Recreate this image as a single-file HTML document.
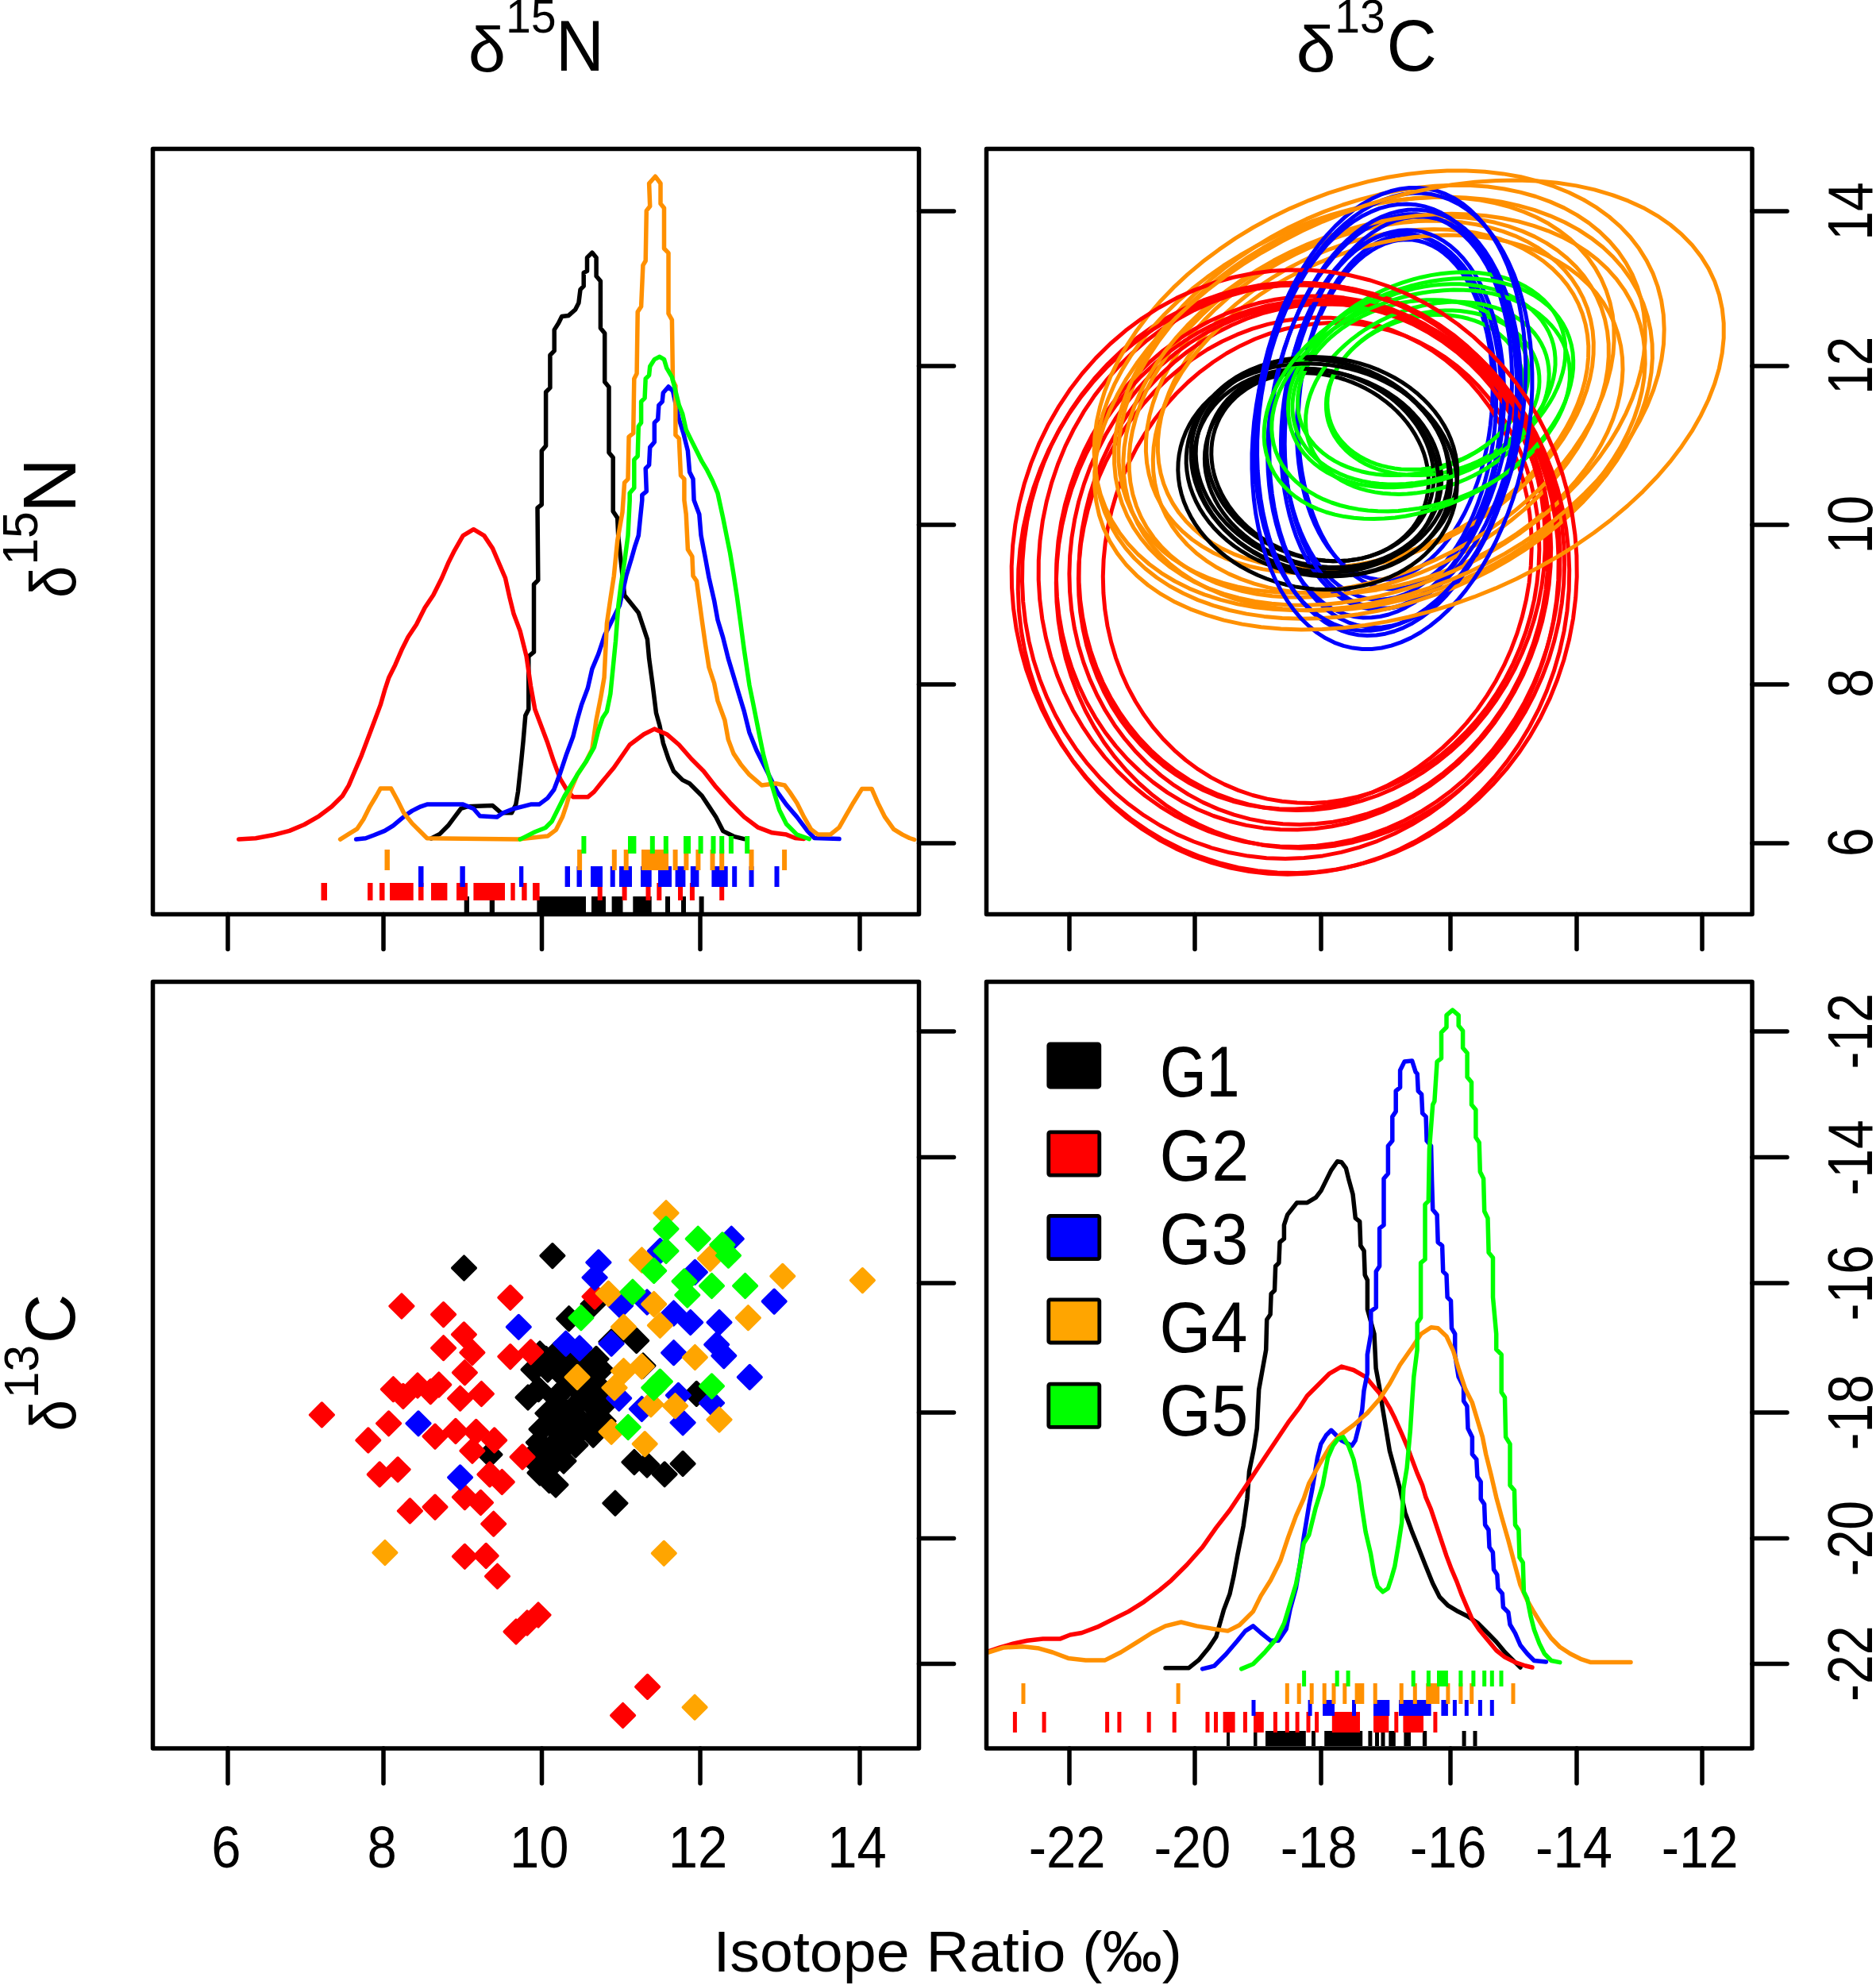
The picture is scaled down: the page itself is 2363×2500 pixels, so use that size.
<!DOCTYPE html>
<html><head><meta charset="utf-8"><title>Isotope pairs plot</title>
<style>
html,body{margin:0;padding:0;background:#fff;overflow:hidden;}
svg{display:block;}
text{font-family:"Liberation Sans",Arial,sans-serif;fill:#000;}
</style></head><body>
<svg width="2363" height="2500" viewBox="0 0 2363 2500">
<rect width="2363" height="2500" fill="#fff"/>
<polyline points="543.2,1056.0 553.9,1050.4 564.5,1039.8 572.5,1029.1 580.5,1018.5 588.5,1015.8 620.5,1014.5 631.2,1023.8 644.5,1023.8 649.8,1013.1 652.5,997.1 656.5,959.8 659.1,933.2 661.8,901.2 665.8,893.2 665.8,826.6 672.5,821.2 672.5,736.0 677.8,730.6 677.0,639.7 682.3,635.5 682.3,567.8 687.6,561.4 687.6,493.7 692.9,488.4 692.9,447.2 698.2,441.9 698.2,415.4 703.5,407.0 707.7,398.5 716.2,397.4 724.6,390.0 728.9,381.6 731.0,364.6 735.2,360.4 735.2,343.5 739.5,341.4 739.5,324.4 745.8,318.1 751.1,324.4 751.1,347.7 756.4,354.1 756.4,413.3 761.7,419.7 761.7,481.0 767.0,487.4 767.0,569.9 772.2,576.2 772.2,643.9 777.7,652.2 778.8,676.5 782.2,707.6 786.6,749.7 795.5,760.7 804.3,771.8 811.0,791.8 815.4,805.1 817.6,829.4 822.1,862.7 826.5,898.1 830.9,913.7 835.3,935.8 842.0,955.8 848.6,971.3 859.7,982.4 868.6,986.8 884.1,1002.3 893.0,1015.6 901.8,1028.9 910.7,1046.6 924.0,1053.3 937.3,1056.6" fill="none" stroke="#000000" stroke-width="5.5" stroke-linejoin="round" stroke-linecap="round"/>
<polyline points="300.7,1057.1 322.0,1055.8 343.3,1051.8 364.6,1046.4 383.3,1038.5 401.9,1027.8 417.9,1015.8 431.3,1002.5 439.3,989.1 447.2,970.5 455.2,951.8 463.2,930.5 471.2,909.2 479.2,887.9 484.6,869.2 489.9,853.2 497.9,837.2 505.9,818.6 513.9,802.6 524.5,786.6 535.2,765.3 545.9,749.3 556.5,728.0 564.5,709.3 572.5,693.3 583.2,674.6 596.5,666.7 609.8,674.6 620.5,690.6 628.5,709.3 636.5,728.0 641.8,751.9 647.1,773.3 655.1,794.6 663.1,826.6 668.5,863.9 673.8,893.2 681.8,914.5 689.8,935.8 697.8,959.8 705.8,981.2 713.8,994.5 721.8,1003.8 740.4,1003.8 748.4,997.1 759.1,983.8 773.3,966.8 793.2,938.0 811.0,924.7 824.3,918.1 839.8,924.7 855.3,938.0 870.8,955.8 886.3,971.3 901.8,991.2 919.6,1011.2 937.3,1028.9 955.0,1042.2 972.7,1048.8 990.5,1051.1 1001.5,1055.5 1012.6,1056.6" fill="none" stroke="#ff0000" stroke-width="5.5" stroke-linejoin="round" stroke-linecap="round"/>
<polyline points="448.6,1057.1 460.6,1055.8 471.2,1051.8 484.6,1046.4 495.2,1039.8 503.2,1033.1 511.2,1026.5 519.2,1021.1 529.9,1015.8 537.9,1013.1 583.2,1013.1 596.5,1018.5 604.5,1027.8 625.8,1029.1 633.8,1023.8 647.1,1018.5 657.8,1015.8 668.5,1013.1 679.1,1013.1 689.8,1005.1 697.8,994.5 705.8,973.2 713.8,949.2 721.8,927.8 727.1,906.5 732.4,887.9 740.4,866.5 745.8,842.6 753.7,823.9 761.7,799.9 767.1,789.3 772.4,778.6 780.4,762.6 788.8,725.3 795.5,703.1 799.9,687.6 804.3,674.3 806.5,652.2 808.8,630.0 808.8,623.3 814.3,618.8 813.2,590.0 817.6,585.6 818.7,563.4 824.3,556.8 824.3,532.4 828.7,528.0 829.8,510.3 834.2,505.8 835.3,494.7 842.0,487.0 847.5,492.5 855.3,528.0 860.8,545.7 866.4,567.9 868.6,594.5 873.0,603.3 874.1,629.9 880.8,647.7 883.0,674.3 888.5,703.1 893.0,727.5 899.6,756.3 904.0,780.7 910.7,802.9 917.3,829.4 924.0,851.6 930.6,873.8 937.3,895.9 943.9,922.5 952.8,944.7 961.7,962.4 970.5,980.1 979.4,997.9 990.5,1013.4 1003.8,1028.9 1017.1,1046.6 1025.9,1055.5 1057.0,1056.6" fill="none" stroke="#0000ff" stroke-width="5.5" stroke-linejoin="round" stroke-linecap="round"/>
<polyline points="428.6,1057.1 439.3,1050.4 449.9,1043.8 457.9,1031.8 465.9,1015.8 473.9,1002.5 479.2,993.1 492.6,993.1 500.6,1007.8 508.6,1023.8 519.2,1037.1 529.9,1047.8 537.9,1055.8 652.5,1057.1 689.8,1053.1 700.4,1045.1 708.4,1029.1 713.8,1013.1 719.1,994.5 727.1,975.8 737.8,959.8 745.8,943.8 751.1,906.5 756.4,879.9 761.1,853.2 764.4,785.1 768.9,754.1 773.3,725.3 777.7,681.0 784.0,645.0 786.6,607.8 791.0,603.3 792.1,550.1 797.7,545.7 798.8,477.0 802.1,470.4 803.2,392.8 807.6,386.1 809.9,334.1 813.2,328.5 814.3,265.4 818.7,259.8 817.6,231.0 825.4,222.2 832.0,231.0 832.0,256.5 836.5,262.0 836.5,313.0 842.0,318.6 842.0,395.0 846.4,402.8 847.5,479.2 850.9,485.9 850.9,547.9 855.3,552.4 857.5,598.9 861.9,603.3 861.9,630.0 864.2,647.7 866.4,692.0 871.9,700.9 873.0,725.3 877.5,731.9 880.8,756.3 884.1,780.7 888.5,811.7 893.0,840.5 899.6,860.5 904.0,882.6 912.9,907.0 917.3,931.4 924.0,949.1 932.9,962.4 943.9,975.7 959.4,989.0 977.2,986.8 988.3,989.0 994.9,997.9 1003.8,1011.2 1012.6,1028.9 1021.5,1044.4 1030.4,1051.1 1045.9,1051.1 1057.0,1042.2 1065.8,1026.7 1074.7,1011.2 1085.8,993.4 1098.0,993.4 1105.7,1011.2 1114.6,1028.9 1125.7,1044.4 1136.7,1051.1 1145.6,1055.5 1151.7,1057.5" fill="none" stroke="#ff9000" stroke-width="5.5" stroke-linejoin="round" stroke-linecap="round"/>
<polyline points="655.1,1057.1 663.1,1053.1 673.8,1047.8 687.1,1042.5 695.1,1034.5 703.1,1018.5 711.1,1002.5 719.1,989.1 727.1,975.8 737.8,959.8 748.4,941.2 753.7,919.8 759.1,903.9 764.4,895.9 768.9,873.8 772.2,840.5 775.5,807.3 778.8,763.0 782.2,736.4 786.6,707.6 791.0,674.3 793.2,630.0 793.2,621.1 798.8,614.4 798.8,578.9 803.2,574.5 804.3,536.8 807.6,532.4 807.6,505.8 812.1,501.4 813.2,477.0 817.6,472.6 818.7,461.5 824.3,452.6 830.9,449.3 836.5,452.6 839.8,463.7 846.4,474.8 850.9,492.5 855.3,510.3 859.7,521.3 864.2,541.3 870.8,554.6 877.5,567.9 884.1,581.2 890.7,592.2 897.4,605.5 904.0,621.1 910.7,652.2 915.1,674.3 919.6,696.5 924.0,723.1 928.4,751.9 932.9,785.1 937.3,818.4 940.6,840.5 943.9,862.7 948.4,884.8 952.8,907.0 957.2,929.2 961.7,951.3 968.3,975.7 975.0,997.9 981.6,1020.0 990.5,1037.8 1003.8,1051.1 1019.3,1056.6" fill="none" stroke="#00ff00" stroke-width="5.5" stroke-linejoin="round" stroke-linecap="round"/>
<rect x="584.7" y="1129" width="6.3" height="21" fill="#000000"/><rect x="616.7" y="1129" width="6.3" height="21" fill="#000000"/><rect x="676.4" y="1129" width="61.6" height="21" fill="#000000"/><rect x="745.0" y="1129" width="18.0" height="21" fill="#000000"/><rect x="770.6" y="1129" width="13.9" height="21" fill="#000000"/><rect x="797.3" y="1129" width="23.4" height="21" fill="#000000"/><rect x="838.0" y="1129" width="6.0" height="21" fill="#000000"/><rect x="858.0" y="1129" width="6.0" height="21" fill="#000000"/><rect x="880.6" y="1129" width="6.0" height="21" fill="#000000"/>
<rect x="404.5" y="1112" width="7.5" height="22" fill="#ff0000"/><rect x="463.0" y="1112" width="6.5" height="22" fill="#ff0000"/><rect x="478.0" y="1112" width="6.5" height="22" fill="#ff0000"/><rect x="491.0" y="1112" width="29.7" height="22" fill="#ff0000"/><rect x="527.0" y="1112" width="6.5" height="22" fill="#ff0000"/><rect x="543.0" y="1112" width="20.4" height="22" fill="#ff0000"/><rect x="575.0" y="1112" width="14.0" height="22" fill="#ff0000"/><rect x="596.4" y="1112" width="39.6" height="22" fill="#ff0000"/><rect x="643.3" y="1112" width="5.4" height="22" fill="#ff0000"/><rect x="657.2" y="1112" width="6.4" height="22" fill="#ff0000"/><rect x="671.0" y="1112" width="8.6" height="22" fill="#ff0000"/><rect x="752.7" y="1112" width="6.0" height="22" fill="#ff0000"/><rect x="783.6" y="1112" width="6.0" height="22" fill="#ff0000"/><rect x="813.5" y="1112" width="6.0" height="22" fill="#ff0000"/><rect x="827.3" y="1112" width="6.0" height="22" fill="#ff0000"/><rect x="854.0" y="1112" width="6.0" height="22" fill="#ff0000"/><rect x="868.9" y="1112" width="6.0" height="22" fill="#ff0000"/><rect x="906.2" y="1112" width="6.0" height="22" fill="#ff0000"/>
<rect x="527.0" y="1091" width="6.5" height="26" fill="#0000ff"/><rect x="579.4" y="1091" width="6.4" height="26" fill="#0000ff"/><rect x="654.0" y="1091" width="5.3" height="26" fill="#0000ff"/><rect x="711.6" y="1091" width="6.4" height="26" fill="#0000ff"/><rect x="726.5" y="1091" width="6.4" height="26" fill="#0000ff"/><rect x="744.0" y="1091" width="15.0" height="26" fill="#0000ff"/><rect x="768.7" y="1091" width="6.0" height="26" fill="#0000ff"/><rect x="780.0" y="1091" width="16.0" height="26" fill="#0000ff"/><rect x="807.0" y="1091" width="13.7" height="26" fill="#0000ff"/><rect x="829.0" y="1091" width="17.0" height="26" fill="#0000ff"/><rect x="850.6" y="1091" width="12.8" height="26" fill="#0000ff"/><rect x="869.8" y="1091" width="10.6" height="26" fill="#0000ff"/><rect x="896.4" y="1091" width="20.3" height="26" fill="#0000ff"/><rect x="922.2" y="1091" width="6.0" height="26" fill="#0000ff"/><rect x="943.5" y="1091" width="6.0" height="26" fill="#0000ff"/><rect x="975.5" y="1091" width="6.0" height="26" fill="#0000ff"/>
<rect x="484.5" y="1070" width="6.4" height="26" fill="#ff9000"/><rect x="727.1" y="1070" width="6.0" height="26" fill="#ff9000"/><rect x="770.8" y="1070" width="6.0" height="26" fill="#ff9000"/><rect x="785.7" y="1070" width="6.0" height="26" fill="#ff9000"/><rect x="808.0" y="1070" width="34.0" height="26" fill="#ff9000"/><rect x="847.6" y="1070" width="6.0" height="26" fill="#ff9000"/><rect x="861.4" y="1070" width="6.0" height="26" fill="#ff9000"/><rect x="876.4" y="1070" width="6.0" height="26" fill="#ff9000"/><rect x="894.5" y="1070" width="6.0" height="26" fill="#ff9000"/><rect x="906.2" y="1070" width="6.0" height="26" fill="#ff9000"/><rect x="943.5" y="1070" width="6.0" height="26" fill="#ff9000"/><rect x="985.1" y="1070" width="6.0" height="26" fill="#ff9000"/>
<rect x="732.4" y="1053" width="6.0" height="22" fill="#00ff00"/><rect x="791.0" y="1053" width="10.4" height="22" fill="#00ff00"/><rect x="818.8" y="1053" width="6.0" height="22" fill="#00ff00"/><rect x="835.8" y="1053" width="6.0" height="22" fill="#00ff00"/><rect x="861.0" y="1053" width="9.0" height="22" fill="#00ff00"/><rect x="879.6" y="1053" width="6.0" height="22" fill="#00ff00"/><rect x="895.5" y="1053" width="6.0" height="22" fill="#00ff00"/><rect x="906.2" y="1053" width="6.0" height="22" fill="#00ff00"/><rect x="917.9" y="1053" width="6.0" height="22" fill="#00ff00"/><rect x="938.2" y="1053" width="6.0" height="22" fill="#00ff00"/>
<polygon points="1533.3,533.0 1536.7,525.8 1540.8,518.9 1545.4,512.4 1550.6,506.2 1556.4,500.4 1562.7,495.1 1569.5,490.2 1576.7,485.8 1584.3,481.8 1592.3,478.4 1600.7,475.6 1609.4,473.3 1618.3,471.5 1627.4,470.3 1636.7,469.7 1646.2,469.7 1655.7,470.2 1665.2,471.3 1674.8,473.0 1684.3,475.2 1693.6,478.0 1702.9,481.4 1711.9,485.2 1720.7,489.6 1729.2,494.4 1737.4,499.7 1745.2,505.4 1752.6,511.5 1759.6,518.0 1766.1,524.9 1772.1,532.0 1777.5,539.4 1782.4,547.1 1786.7,555.0 1790.5,563.0 1793.6,571.1 1796.0,579.4 1797.8,587.6 1799.0,595.9 1799.4,604.1 1799.3,612.3 1798.4,620.3 1796.9,628.2 1794.7,635.9 1791.9,643.4 1788.5,650.5 1784.4,657.4 1779.8,664.0 1774.6,670.1 1768.8,675.9 1762.5,681.3 1755.8,686.2 1748.5,690.6 1740.9,694.5 1732.9,697.9 1724.5,700.8 1715.9,703.1 1706.9,704.8 1697.8,706.0 1688.5,706.6 1679.0,706.7 1669.5,706.1 1660.0,705.0 1650.4,703.3 1641.0,701.1 1631.6,698.3 1622.4,695.0 1613.3,691.1 1604.6,686.8 1596.1,681.9 1587.9,676.6 1580.1,670.9 1572.6,664.8 1565.7,658.3 1559.2,651.5 1553.2,644.3 1547.7,636.9 1542.8,629.2 1538.5,621.4 1534.8,613.4 1531.7,605.2 1529.2,597.0 1527.4,588.7 1526.3,580.4 1525.8,572.2 1526.0,564.0 1526.8,556.0 1528.3,548.1 1530.5,540.4" fill="none" stroke="#000000" stroke-width="5" stroke-linejoin="round"/>
<polygon points="1750.5,416.4 1768.5,422.5 1786.0,430.0 1802.9,438.9 1819.1,449.0 1834.5,460.4 1849.1,473.1 1862.9,486.8 1875.6,501.7 1887.3,517.6 1898.0,534.4 1907.5,552.1 1915.8,570.5 1922.9,589.6 1928.7,609.3 1933.2,629.4 1936.5,650.0 1938.3,670.8 1938.9,691.8 1938.1,712.9 1936.0,734.0 1932.6,755.0 1927.8,775.7 1921.8,796.2 1914.5,816.1 1906.0,835.6 1896.3,854.5 1885.5,872.6 1873.6,890.0 1860.7,906.4 1846.8,921.9 1832.1,936.4 1816.5,949.7 1800.2,961.9 1783.2,972.9 1765.6,982.6 1747.6,990.9 1729.1,997.8 1710.3,1003.4 1691.3,1007.5 1672.2,1010.2 1653.0,1011.4 1633.9,1011.1 1614.9,1009.3 1596.1,1006.1 1577.7,1001.5 1559.8,995.4 1542.3,987.9 1525.4,979.1 1509.2,968.9 1493.7,957.5 1479.1,944.8 1465.4,931.1 1452.6,916.2 1440.9,900.3 1430.3,883.5 1420.8,865.9 1412.5,847.4 1405.4,828.3 1399.6,808.7 1395.0,788.5 1391.8,767.9 1389.9,747.1 1389.3,726.1 1390.1,705.0 1392.2,683.9 1395.7,662.9 1400.4,642.2 1406.4,621.8 1413.7,601.8 1422.2,582.3 1431.9,563.4 1442.7,545.3 1454.6,528.0 1467.5,511.5 1481.4,496.0 1496.2,481.5 1511.7,468.2 1528.1,456.0 1545.0,445.0 1562.6,435.4 1580.7,427.0 1599.1,420.1 1617.9,414.5 1636.9,410.4 1656.1,407.7 1675.3,406.5 1694.4,406.8 1713.4,408.6 1732.1,411.8" fill="none" stroke="#ff0000" stroke-width="5" stroke-linejoin="round"/>
<polygon points="1779.1,302.0 1787.5,303.5 1795.8,305.9 1803.8,309.4 1811.7,313.8 1819.2,319.3 1826.5,325.7 1833.4,333.0 1840.0,341.3 1846.1,350.3 1851.9,360.2 1857.1,370.9 1861.9,382.2 1866.1,394.2 1869.8,406.8 1873.0,419.9 1875.6,433.5 1877.6,447.5 1879.1,461.9 1879.9,476.4 1880.1,491.2 1879.8,506.1 1878.8,521.1 1877.2,536.0 1875.1,550.8 1872.4,565.5 1869.1,579.9 1865.3,594.0 1860.9,607.7 1856.0,621.0 1850.7,633.8 1844.9,646.0 1838.6,657.5 1832.0,668.4 1825.0,678.5 1817.7,687.8 1810.0,696.3 1802.1,703.9 1794.0,710.6 1785.7,716.4 1777.3,721.2 1768.7,724.9 1760.2,727.7 1751.5,729.4 1743.0,730.1 1734.4,729.7 1726.0,728.3 1717.8,725.9 1709.7,722.4 1701.9,717.9 1694.3,712.5 1687.0,706.1 1680.1,698.7 1673.5,690.5 1667.4,681.4 1661.7,671.6 1656.4,660.9 1651.6,649.6 1647.4,637.6 1643.7,625.0 1640.5,611.8 1637.9,598.2 1635.9,584.2 1634.5,569.9 1633.6,555.3 1633.4,540.5 1633.7,525.6 1634.7,510.7 1636.3,495.8 1638.4,480.9 1641.1,466.3 1644.4,451.9 1648.3,437.8 1652.6,424.0 1657.5,410.8 1662.8,398.0 1668.6,385.8 1674.9,374.3 1681.5,363.4 1688.5,353.3 1695.9,343.9 1703.5,335.4 1711.4,327.8 1719.5,321.1 1727.8,315.4 1736.2,310.6 1744.8,306.8 1753.4,304.1 1762.0,302.4 1770.6,301.7" fill="none" stroke="#0000ff" stroke-width="5" stroke-linejoin="round"/>
<polygon points="1988.2,382.6 1993.3,395.3 1997.1,408.4 1999.6,422.0 2000.8,436.0 2000.6,450.4 1999.2,464.9 1996.4,479.7 1992.3,494.6 1986.9,509.5 1980.3,524.4 1972.5,539.1 1963.5,553.7 1953.3,568.1 1942.1,582.1 1929.8,595.7 1916.5,608.9 1902.4,621.6 1887.4,633.6 1871.6,645.1 1855.1,655.8 1838.0,665.8 1820.4,675.0 1802.4,683.3 1784.0,690.8 1765.3,697.4 1746.4,703.0 1727.5,707.6 1708.6,711.2 1689.8,713.8 1671.1,715.4 1652.8,715.9 1634.8,715.4 1617.3,713.9 1600.4,711.3 1584.1,707.7 1568.4,703.2 1553.6,697.6 1539.6,691.1 1526.6,683.6 1514.5,675.3 1503.5,666.1 1493.6,656.2 1484.8,645.5 1477.2,634.0 1470.9,622.0 1465.8,609.4 1462.0,596.2 1459.5,582.6 1458.4,568.6 1458.5,554.2 1460.0,539.7 1462.7,524.9 1466.8,510.0 1472.2,495.1 1478.8,480.2 1486.6,465.5 1495.6,450.9 1505.8,436.5 1517.0,422.5 1529.3,408.9 1542.6,395.7 1556.7,383.1 1571.7,371.0 1587.5,359.5 1604.0,348.8 1621.1,338.8 1638.7,329.6 1656.7,321.3 1675.1,313.8 1693.8,307.2 1712.7,301.6 1731.6,297.0 1750.5,293.4 1769.3,290.8 1788.0,289.2 1806.3,288.7 1824.3,289.2 1841.8,290.7 1858.7,293.3 1875.1,296.9 1890.7,301.5 1905.5,307.0 1919.5,313.5 1932.5,321.0 1944.6,329.3 1955.6,338.5 1965.5,348.4 1974.3,359.2 1981.9,370.6" fill="none" stroke="#ff9000" stroke-width="5" stroke-linejoin="round"/>
<polygon points="1674.6,527.2 1673.1,520.8 1672.2,514.2 1671.9,507.5 1672.2,500.7 1673.2,493.9 1674.7,487.1 1676.8,480.4 1679.5,473.7 1682.7,467.1 1686.5,460.6 1690.8,454.3 1695.6,448.2 1700.9,442.3 1706.7,436.7 1712.9,431.3 1719.5,426.3 1726.5,421.5 1733.8,417.2 1741.4,413.2 1749.2,409.6 1757.3,406.4 1765.6,403.6 1774.0,401.3 1782.5,399.4 1791.1,398.0 1799.7,397.1 1808.2,396.6 1816.7,396.6 1825.1,397.1 1833.4,398.0 1841.5,399.4 1849.3,401.3 1856.9,403.7 1864.1,406.4 1871.1,409.6 1877.7,413.2 1883.8,417.2 1889.6,421.6 1894.8,426.3 1899.6,431.4 1903.9,436.7 1907.6,442.4 1910.8,448.3 1913.5,454.4 1915.5,460.7 1917.0,467.2 1917.9,473.8 1918.2,480.5 1917.8,487.2 1916.9,494.0 1915.4,500.8 1913.3,507.6 1910.6,514.3 1907.4,520.9 1903.6,527.3 1899.3,533.6 1894.5,539.8 1889.2,545.6 1883.4,551.3 1877.2,556.6 1870.6,561.7 1863.6,566.4 1856.3,570.8 1848.7,574.8 1840.9,578.4 1832.8,581.6 1824.5,584.3 1816.1,586.6 1807.6,588.5 1799.0,589.9 1790.4,590.9 1781.9,591.3 1773.4,591.3 1765.0,590.9 1756.7,589.9 1748.6,588.5 1740.8,586.6 1733.2,584.3 1725.9,581.5 1719.0,578.3 1712.4,574.7 1706.3,570.7 1700.5,566.3 1695.3,561.6 1690.5,556.6 1686.2,551.2 1682.4,545.6 1679.2,539.7 1676.6,533.6" fill="none" stroke="#00ff00" stroke-width="5" stroke-linejoin="round"/>
<polygon points="1525.1,538.0 1528.2,530.3 1531.8,523.0 1536.2,515.9 1541.1,509.1 1546.6,502.7 1552.7,496.7 1559.3,491.2 1566.5,486.1 1574.1,481.5 1582.1,477.4 1590.5,473.9 1599.3,470.8 1608.4,468.4 1617.8,466.5 1627.3,465.2 1637.1,464.4 1647.0,464.3 1656.9,464.7 1666.9,465.8 1676.9,467.4 1686.8,469.6 1696.6,472.4 1706.2,475.7 1715.6,479.5 1724.7,483.9 1733.6,488.8 1742.1,494.1 1750.2,499.9 1757.9,506.1 1765.1,512.7 1771.8,519.6 1778.0,526.9 1783.7,534.4 1788.7,542.2 1793.2,550.2 1797.0,558.4 1800.1,566.7 1802.6,575.1 1804.4,583.5 1805.5,592.0 1806.0,600.4 1805.7,608.8 1804.7,617.0 1803.0,625.1 1800.7,633.0 1797.7,640.7 1794.0,648.1 1789.7,655.2 1784.7,661.9 1779.2,668.3 1773.1,674.3 1766.5,679.8 1759.4,684.9 1751.8,689.5 1743.7,693.6 1735.3,697.2 1726.5,700.2 1717.4,702.7 1708.1,704.6 1698.5,705.9 1688.7,706.6 1678.9,706.7 1668.9,706.3 1658.9,705.2 1649.0,703.6 1639.1,701.4 1629.3,698.7 1619.7,695.3 1610.3,691.5 1601.1,687.1 1592.3,682.3 1583.8,676.9 1575.6,671.2 1568.0,665.0 1560.7,658.4 1554.0,651.4 1547.8,644.2 1542.1,636.6 1537.1,628.8 1532.7,620.8 1528.9,612.7 1525.7,604.3 1523.2,595.9 1521.4,587.5 1520.3,579.0 1519.9,570.6 1520.2,562.2 1521.1,554.0 1522.8,545.9" fill="none" stroke="#000000" stroke-width="5" stroke-linejoin="round"/>
<polygon points="1753.2,415.9 1771.4,423.5 1788.9,432.4 1805.7,442.7 1821.7,454.3 1836.8,467.2 1851.0,481.2 1864.2,496.4 1876.3,512.6 1887.3,529.7 1897.1,547.7 1905.7,566.6 1912.9,586.1 1918.9,606.2 1923.6,626.8 1926.8,647.8 1928.7,669.1 1929.2,690.6 1928.3,712.2 1926.1,733.8 1922.4,755.3 1917.4,776.5 1911.1,797.4 1903.4,817.9 1894.5,837.9 1884.4,857.2 1873.1,875.9 1860.7,893.7 1847.2,910.6 1832.8,926.5 1817.4,941.4 1801.2,955.1 1784.2,967.7 1766.5,979.0 1748.2,988.9 1729.4,997.6 1710.2,1004.8 1690.7,1010.5 1670.9,1014.9 1651.1,1017.7 1631.1,1019.0 1611.3,1018.8 1591.6,1017.1 1572.1,1013.9 1553.0,1009.2 1534.4,1003.1 1516.2,995.5 1498.7,986.6 1482.0,976.2 1465.9,964.6 1450.8,951.8 1436.6,937.7 1423.4,922.6 1411.3,906.4 1400.3,889.3 1390.5,871.2 1382.0,852.4 1374.7,832.9 1368.7,812.8 1364.1,792.2 1360.8,771.2 1358.9,749.9 1358.4,728.4 1359.3,706.8 1361.5,685.2 1365.2,663.7 1370.2,642.5 1376.5,621.5 1384.2,601.0 1393.1,581.1 1403.2,561.7 1414.5,543.1 1426.9,525.3 1440.4,508.4 1454.8,492.5 1470.2,477.6 1486.5,463.8 1503.5,451.3 1521.1,440.0 1539.4,430.0 1558.2,421.4 1577.4,414.2 1596.9,408.4 1616.7,404.1 1636.6,401.3 1656.5,400.0 1676.3,400.2 1696.0,401.9 1715.5,405.1 1734.6,409.7" fill="none" stroke="#ff0000" stroke-width="5" stroke-linejoin="round"/>
<polygon points="1776.8,295.8 1785.7,296.9 1794.4,299.1 1803.0,302.3 1811.4,306.6 1819.6,311.9 1827.4,318.3 1835.0,325.6 1842.2,333.8 1849.1,343.0 1855.5,353.0 1861.4,363.8 1866.9,375.4 1871.9,387.6 1876.4,400.5 1880.3,414.0 1883.6,428.0 1886.3,442.5 1888.5,457.3 1890.0,472.4 1890.9,487.7 1891.2,503.2 1890.9,518.7 1890.0,534.3 1888.4,549.8 1886.2,565.1 1883.4,580.2 1880.1,595.0 1876.1,609.5 1871.6,623.5 1866.6,636.9 1861.1,649.8 1855.1,662.1 1848.7,673.7 1841.8,684.5 1834.6,694.5 1827.0,703.7 1819.1,711.9 1810.9,719.2 1802.5,725.5 1793.9,730.9 1785.2,735.2 1776.3,738.4 1767.4,740.6 1758.5,741.7 1749.5,741.7 1740.7,740.6 1732.0,738.4 1723.4,735.2 1715.0,730.9 1706.8,725.5 1698.9,719.2 1691.4,711.9 1684.2,703.7 1677.3,694.5 1670.9,684.5 1664.9,673.7 1659.4,662.1 1654.5,649.8 1650.0,636.9 1646.1,623.4 1642.8,609.5 1640.0,595.0 1637.9,580.2 1636.4,565.1 1635.4,549.8 1635.1,534.3 1635.5,518.7 1636.4,503.2 1638.0,487.7 1640.2,472.4 1643.0,457.2 1646.3,442.4 1650.3,428.0 1654.7,414.0 1659.8,400.5 1665.3,387.6 1671.3,375.4 1677.7,363.8 1684.6,353.0 1691.8,343.0 1699.4,333.8 1707.3,325.6 1715.5,318.3 1723.9,311.9 1732.5,306.6 1741.2,302.3 1750.1,299.1 1759.0,296.9 1767.9,295.8" fill="none" stroke="#0000ff" stroke-width="5" stroke-linejoin="round"/>
<polygon points="1994.3,375.7 1999.6,388.8 2003.5,402.5 2006.1,416.6 2007.3,431.2 2007.1,446.0 2005.6,461.2 2002.7,476.5 1998.4,492.0 1992.8,507.5 1985.9,522.9 1977.8,538.2 1968.4,553.4 1957.8,568.3 1946.1,582.8 1933.3,597.0 1919.5,610.7 1904.8,623.8 1889.2,636.3 1872.8,648.2 1855.6,659.4 1837.9,669.7 1819.6,679.3 1800.8,687.9 1781.7,695.7 1762.2,702.5 1742.6,708.3 1723.0,713.1 1703.3,716.9 1683.7,719.6 1664.4,721.2 1645.3,721.7 1626.6,721.2 1608.5,719.6 1590.8,716.9 1573.9,713.2 1557.6,708.4 1542.2,702.6 1527.7,695.9 1514.2,688.1 1501.6,679.5 1490.2,669.9 1479.9,659.6 1470.8,648.5 1463.0,636.6 1456.4,624.1 1451.1,611.0 1447.2,597.3 1444.6,583.1 1443.4,568.6 1443.6,553.7 1445.1,538.6 1448.0,523.2 1452.3,507.8 1457.8,492.3 1464.7,476.9 1472.9,461.5 1482.3,446.4 1492.8,431.5 1504.6,416.9 1517.3,402.8 1531.1,389.1 1545.9,375.9 1561.5,363.4 1577.9,351.5 1595.0,340.4 1612.8,330.0 1631.1,320.5 1649.9,311.8 1669.0,304.1 1688.4,297.3 1708.0,291.4 1727.7,286.7 1747.4,282.9 1766.9,280.2 1786.3,278.6 1805.3,278.0 1824.0,278.5 1842.2,280.1 1859.8,282.8 1876.8,286.6 1893.0,291.3 1908.4,297.1 1923.0,303.9 1936.5,311.6 1949.0,320.3 1960.5,329.8 1970.8,340.2 1979.9,351.3 1987.7,363.2" fill="none" stroke="#ff9000" stroke-width="5" stroke-linejoin="round"/>
<polygon points="1672.9,530.2 1671.4,523.3 1670.6,516.3 1670.4,509.1 1670.8,501.9 1671.9,494.7 1673.7,487.4 1676.1,480.2 1679.1,473.1 1682.7,466.1 1686.9,459.2 1691.7,452.5 1697.1,446.0 1702.9,439.7 1709.3,433.7 1716.1,428.0 1723.4,422.6 1731.1,417.6 1739.1,412.9 1747.4,408.7 1756.0,404.9 1764.9,401.5 1773.9,398.5 1783.1,396.1 1792.4,394.1 1801.8,392.6 1811.2,391.6 1820.5,391.1 1829.8,391.1 1838.9,391.6 1847.9,392.7 1856.7,394.2 1865.2,396.2 1873.4,398.7 1881.3,401.6 1888.8,405.1 1895.9,408.9 1902.6,413.2 1908.8,417.8 1914.4,422.9 1919.6,428.3 1924.1,434.0 1928.1,440.0 1931.5,446.3 1934.3,452.8 1936.5,459.5 1938.0,466.4 1938.8,473.5 1939.0,480.6 1938.6,487.8 1937.5,495.0 1935.7,502.3 1933.3,509.5 1930.3,516.6 1926.7,523.7 1922.5,530.5 1917.7,537.3 1912.3,543.8 1906.4,550.0 1900.1,556.0 1893.2,561.7 1886.0,567.1 1878.3,572.1 1870.3,576.8 1862.0,581.0 1853.3,584.9 1844.5,588.2 1835.4,591.2 1826.2,593.6 1816.9,595.6 1807.6,597.1 1798.2,598.1 1788.9,598.6 1779.6,598.6 1770.4,598.1 1761.5,597.1 1752.7,595.5 1744.2,593.5 1736.0,591.0 1728.1,588.1 1720.6,584.7 1713.5,580.8 1706.8,576.5 1700.6,571.9 1694.9,566.8 1689.8,561.4 1685.2,555.7 1681.2,549.7 1677.8,543.4 1675.1,536.9" fill="none" stroke="#00ff00" stroke-width="5" stroke-linejoin="round"/>
<polygon points="1520.6,552.6 1523.1,544.4 1526.3,536.5 1530.1,528.9 1534.7,521.5 1539.9,514.5 1545.7,507.9 1552.1,501.6 1559.0,495.8 1566.5,490.5 1574.5,485.6 1582.9,481.3 1591.7,477.5 1600.9,474.2 1610.4,471.5 1620.2,469.4 1630.2,467.9 1640.4,467.0 1650.7,466.7 1661.0,466.9 1671.5,467.8 1681.8,469.3 1692.2,471.4 1702.4,474.0 1712.4,477.3 1722.2,481.0 1731.7,485.4 1740.9,490.2 1749.7,495.5 1758.2,501.3 1766.1,507.5 1773.7,514.1 1780.6,521.1 1787.1,528.4 1792.9,536.0 1798.1,543.9 1802.7,552.1 1806.6,560.4 1809.9,568.8 1812.4,577.4 1814.2,586.0 1815.3,594.7 1815.7,603.3 1815.4,611.9 1814.3,620.3 1812.5,628.7 1810.0,636.8 1806.8,644.7 1802.9,652.3 1798.4,659.7 1793.2,666.7 1787.4,673.3 1781.0,679.6 1774.0,685.4 1766.6,690.7 1758.6,695.6 1750.2,699.9 1741.4,703.7 1732.2,707.0 1722.7,709.7 1712.9,711.8 1702.9,713.3 1692.7,714.2 1682.4,714.6 1672.0,714.3 1661.6,713.4 1651.2,711.9 1640.9,709.8 1630.7,707.2 1620.7,703.9 1610.9,700.2 1601.4,695.9 1592.2,691.0 1583.3,685.7 1574.9,680.0 1566.9,673.7 1559.4,667.1 1552.4,660.1 1546.0,652.8 1540.2,645.2 1534.9,637.3 1530.4,629.2 1526.4,620.9 1523.2,612.4 1520.7,603.8 1518.8,595.2 1517.7,586.5 1517.4,577.9 1517.7,569.3 1518.8,560.9" fill="none" stroke="#000000" stroke-width="5" stroke-linejoin="round"/>
<polygon points="1751.8,395.7 1770.8,402.7 1789.3,411.2 1807.1,421.0 1824.2,432.3 1840.4,444.8 1855.7,458.6 1870.0,473.6 1883.3,489.7 1895.4,506.8 1906.3,524.9 1916.0,543.9 1924.5,563.6 1931.6,584.0 1937.3,604.9 1941.7,626.3 1944.6,648.1 1946.1,670.2 1946.2,692.4 1944.9,714.7 1942.1,736.8 1938.0,758.9 1932.4,780.6 1925.5,802.0 1917.2,822.8 1907.7,843.1 1896.9,862.7 1884.9,881.5 1871.8,899.4 1857.7,916.4 1842.5,932.3 1826.4,947.1 1809.4,960.7 1791.7,973.1 1773.3,984.1 1754.4,993.7 1734.9,1002.0 1715.0,1008.7 1694.9,1014.0 1674.5,1017.7 1654.0,1019.9 1633.5,1020.6 1613.1,1019.7 1592.9,1017.2 1573.0,1013.2 1553.4,1007.7 1534.4,1000.7 1515.9,992.3 1498.1,982.4 1481.1,971.2 1464.8,958.6 1449.5,944.8 1435.2,929.8 1422.0,913.7 1409.9,896.6 1398.9,878.5 1389.2,859.6 1380.8,839.9 1373.7,819.5 1367.9,798.5 1363.6,777.1 1360.6,755.3 1359.1,733.3 1359.0,711.0 1360.3,688.8 1363.1,666.6 1367.3,644.6 1372.8,622.8 1379.7,601.5 1388.0,580.6 1397.5,560.3 1408.3,540.7 1420.3,521.9 1433.4,504.0 1447.6,487.0 1462.7,471.1 1478.8,456.3 1495.8,442.7 1513.5,430.4 1531.9,419.3 1550.9,409.7 1570.3,401.5 1590.2,394.7 1610.4,389.5 1630.8,385.7 1651.2,383.5 1671.7,382.9 1692.1,383.8 1712.3,386.2 1732.3,390.2" fill="none" stroke="#ff0000" stroke-width="5" stroke-linejoin="round"/>
<polygon points="1770.8,293.4 1780.0,294.8 1789.1,297.3 1797.9,300.9 1806.6,305.6 1814.9,311.3 1823.0,318.1 1830.7,325.9 1838.0,334.7 1844.9,344.4 1851.3,354.9 1857.2,366.3 1862.6,378.4 1867.5,391.3 1871.8,404.8 1875.5,418.9 1878.6,433.5 1881.0,448.6 1882.9,464.0 1884.1,479.7 1884.6,495.6 1884.5,511.7 1883.7,527.8 1882.3,543.9 1880.2,559.9 1877.5,575.8 1874.2,591.3 1870.3,606.6 1865.8,621.5 1860.8,635.8 1855.2,649.7 1849.1,662.9 1842.5,675.5 1835.4,687.3 1828.0,698.3 1820.2,708.5 1812.0,717.8 1803.5,726.1 1794.8,733.4 1785.9,739.8 1776.7,745.0 1767.5,749.2 1758.2,752.4 1748.8,754.3 1739.5,755.2 1730.2,755.0 1721.0,753.6 1711.9,751.1 1703.0,747.5 1694.4,742.8 1686.0,737.1 1678.0,730.3 1670.3,722.5 1663.0,713.7 1656.1,704.0 1649.7,693.5 1643.8,682.1 1638.4,669.9 1633.5,657.1 1629.2,643.6 1625.5,629.5 1622.4,614.9 1619.9,599.8 1618.1,584.4 1616.9,568.7 1616.4,552.8 1616.5,536.7 1617.3,520.6 1618.7,504.5 1620.7,488.5 1623.4,472.6 1626.7,457.0 1630.7,441.8 1635.2,426.9 1640.2,412.5 1645.8,398.7 1651.9,385.5 1658.5,372.9 1665.5,361.1 1673.0,350.1 1680.8,339.9 1689.0,330.6 1697.4,322.3 1706.2,315.0 1715.1,308.6 1724.2,303.3 1733.5,299.1 1742.8,296.0 1752.1,294.0 1761.5,293.2" fill="none" stroke="#0000ff" stroke-width="5" stroke-linejoin="round"/>
<polygon points="2033.5,407.5 2038.2,421.4 2041.6,435.8 2043.5,450.5 2044.0,465.7 2043.0,481.1 2040.6,496.7 2036.8,512.4 2031.6,528.2 2025.0,544.0 2017.0,559.6 2007.8,575.1 1997.2,590.3 1985.5,605.1 1972.6,619.6 1958.6,633.6 1943.5,647.0 1927.6,659.9 1910.7,672.0 1893.1,683.5 1874.7,694.1 1855.8,703.9 1836.3,712.9 1816.4,720.9 1796.1,727.9 1775.6,733.9 1755.0,738.9 1734.4,742.9 1713.8,745.7 1693.4,747.5 1673.2,748.2 1653.4,747.7 1634.1,746.2 1615.3,743.6 1597.2,739.9 1579.8,735.2 1563.3,729.4 1547.6,722.6 1532.9,714.8 1519.3,706.1 1506.7,696.4 1495.4,686.0 1485.3,674.7 1476.4,662.7 1468.9,650.0 1462.8,636.7 1458.0,622.8 1454.7,608.5 1452.7,593.7 1452.3,578.5 1453.2,563.1 1455.6,547.5 1459.4,531.8 1464.7,516.0 1471.3,500.3 1479.2,484.6 1488.5,469.2 1499.0,454.0 1510.8,439.1 1523.7,424.6 1537.7,410.6 1552.7,397.2 1568.7,384.4 1585.5,372.2 1603.2,360.7 1621.5,350.1 1640.5,340.3 1660.0,331.4 1679.9,323.4 1700.1,316.3 1720.6,310.3 1741.2,305.3 1761.9,301.4 1782.5,298.5 1802.9,296.7 1823.0,296.1 1842.8,296.5 1862.1,298.0 1880.9,300.6 1899.0,304.3 1916.4,309.1 1933.0,314.9 1948.6,321.7 1963.3,329.5 1977.0,338.2 1989.5,347.8 2000.9,358.3 2011.0,369.5 2019.8,381.5 2027.3,394.2" fill="none" stroke="#ff9000" stroke-width="5" stroke-linejoin="round"/>
<polygon points="1637.3,527.4 1635.6,520.2 1634.7,512.7 1634.5,505.1 1634.9,497.5 1636.1,489.8 1638.0,482.1 1640.6,474.4 1643.8,466.8 1647.8,459.2 1652.3,451.9 1657.5,444.7 1663.3,437.7 1669.6,431.0 1676.5,424.5 1683.9,418.4 1691.7,412.6 1700.0,407.1 1708.7,402.1 1717.7,397.4 1727.0,393.3 1736.6,389.5 1746.4,386.3 1756.3,383.6 1766.4,381.3 1776.5,379.6 1786.7,378.4 1796.8,377.8 1806.8,377.7 1816.7,378.1 1826.4,379.0 1835.9,380.5 1845.1,382.5 1854.0,385.1 1862.6,388.1 1870.7,391.6 1878.4,395.6 1885.6,400.1 1892.3,404.9 1898.4,410.2 1904.0,415.9 1909.0,421.9 1913.3,428.2 1917.0,434.8 1920.0,441.7 1922.3,448.8 1924.0,456.1 1924.9,463.6 1925.2,471.1 1924.7,478.8 1923.5,486.5 1921.6,494.2 1919.0,501.9 1915.8,509.5 1911.9,517.0 1907.3,524.4 1902.1,531.6 1896.4,538.5 1890.0,545.3 1883.1,551.7 1875.8,557.9 1867.9,563.7 1859.6,569.1 1851.0,574.2 1841.9,578.8 1832.6,583.0 1823.0,586.7 1813.3,589.9 1803.3,592.7 1793.2,594.9 1783.1,596.6 1773.0,597.8 1762.9,598.5 1752.8,598.6 1742.9,598.2 1733.2,597.2 1723.7,595.7 1714.5,593.7 1705.6,591.2 1697.1,588.1 1688.9,584.6 1681.2,580.6 1674.0,576.2 1667.3,571.3 1661.2,566.0 1655.6,560.4 1650.7,554.4 1646.3,548.1 1642.6,541.4 1639.6,534.6" fill="none" stroke="#00ff00" stroke-width="5" stroke-linejoin="round"/>
<polygon points="1507.8,550.4 1510.5,542.1 1514.0,534.0 1518.2,526.2 1523.0,518.7 1528.5,511.6 1534.6,504.8 1541.4,498.5 1548.7,492.7 1556.5,487.3 1564.9,482.5 1573.6,478.2 1582.8,474.4 1592.4,471.3 1602.3,468.7 1612.4,466.7 1622.8,465.4 1633.3,464.6 1644.0,464.5 1654.7,465.0 1665.5,466.2 1676.2,467.9 1686.8,470.3 1697.3,473.2 1707.6,476.8 1717.6,480.9 1727.4,485.5 1736.8,490.7 1745.8,496.3 1754.4,502.5 1762.5,509.1 1770.2,516.0 1777.2,523.4 1783.7,531.1 1789.6,539.1 1794.9,547.3 1799.4,555.8 1803.3,564.5 1806.5,573.3 1809.0,582.2 1810.7,591.1 1811.6,600.1 1811.9,609.0 1811.3,617.8 1810.1,626.5 1808.0,635.1 1805.3,643.4 1801.8,651.5 1797.7,659.3 1792.8,666.8 1787.3,673.9 1781.2,680.7 1774.4,687.0 1767.1,692.8 1759.3,698.2 1751.0,703.0 1742.2,707.3 1733.0,711.0 1723.4,714.2 1713.6,716.8 1703.4,718.8 1693.0,720.1 1682.5,720.9 1671.8,721.0 1661.1,720.5 1650.4,719.3 1639.6,717.6 1629.0,715.2 1618.6,712.3 1608.3,708.7 1598.2,704.6 1588.5,700.0 1579.0,694.8 1570.0,689.1 1561.4,683.0 1553.3,676.4 1545.7,669.4 1538.6,662.1 1532.1,654.4 1526.2,646.4 1521.0,638.1 1516.4,629.7 1512.5,621.0 1509.3,612.2 1506.9,603.3 1505.2,594.4 1504.2,585.4 1504.0,576.5 1504.5,567.7 1505.8,559.0" fill="none" stroke="#000000" stroke-width="5" stroke-linejoin="round"/>
<polygon points="1722.3,388.3 1742.5,393.8 1762.3,400.8 1781.5,409.3 1800.1,419.3 1817.9,430.7 1834.9,443.4 1851.0,457.5 1866.1,472.8 1880.1,489.2 1893.0,506.7 1904.7,525.2 1915.2,544.6 1924.3,564.9 1932.2,585.8 1938.6,607.3 1943.6,629.3 1947.2,651.7 1949.4,674.4 1950.0,697.3 1949.2,720.2 1947.0,743.1 1943.3,765.8 1938.1,788.3 1931.5,810.4 1923.6,831.9 1914.3,852.9 1903.7,873.2 1891.9,892.7 1878.9,911.3 1864.8,928.9 1849.6,945.5 1833.4,960.9 1816.3,975.1 1798.4,988.0 1779.8,999.5 1760.6,1009.6 1740.8,1018.3 1720.5,1025.5 1699.9,1031.1 1679.1,1035.2 1658.1,1037.6 1637.0,1038.5 1616.0,1037.8 1595.2,1035.5 1574.6,1031.6 1554.4,1026.1 1534.6,1019.1 1515.4,1010.6 1496.9,1000.6 1479.1,989.2 1462.1,976.5 1446.0,962.4 1430.9,947.1 1416.9,930.7 1403.9,913.2 1392.2,894.7 1381.8,875.3 1372.6,855.1 1364.8,834.1 1358.3,812.6 1353.3,790.6 1349.7,768.2 1347.6,745.5 1346.9,722.6 1347.7,699.7 1350.0,676.8 1353.7,654.1 1358.8,631.6 1365.4,609.6 1373.3,588.0 1382.6,567.0 1393.2,546.7 1405.0,527.2 1418.1,508.6 1432.2,491.0 1447.4,474.4 1463.5,459.0 1480.6,444.8 1498.5,432.0 1517.1,420.4 1536.4,410.3 1556.2,401.6 1576.4,394.5 1597.0,388.8 1617.9,384.8 1638.9,382.3 1659.9,381.4 1680.9,382.1 1701.8,384.4" fill="none" stroke="#ff0000" stroke-width="5" stroke-linejoin="round"/>
<polygon points="1782.0,290.2 1791.5,291.9 1800.9,294.8 1810.0,298.8 1818.9,303.9 1827.4,310.1 1835.6,317.4 1843.4,325.7 1850.7,335.0 1857.6,345.2 1864.0,356.4 1869.8,368.3 1875.1,381.1 1879.8,394.6 1883.8,408.7 1887.3,423.4 1890.1,438.6 1892.2,454.3 1893.6,470.3 1894.4,486.6 1894.5,503.1 1893.9,519.7 1892.6,536.4 1890.7,553.1 1888.1,569.6 1884.8,585.9 1880.9,601.9 1876.4,617.6 1871.2,632.9 1865.5,647.6 1859.3,661.8 1852.5,675.3 1845.3,688.1 1837.6,700.1 1829.6,711.3 1821.1,721.6 1812.3,730.9 1803.3,739.3 1794.0,746.6 1784.5,752.9 1774.8,758.1 1765.1,762.2 1755.3,765.1 1745.5,766.9 1735.7,767.5 1726.0,766.9 1716.5,765.2 1707.1,762.4 1698.0,758.4 1689.2,753.3 1680.6,747.0 1672.4,739.8 1664.7,731.5 1657.3,722.2 1650.4,711.9 1644.1,700.8 1638.2,688.8 1632.9,676.1 1628.3,662.6 1624.2,648.5 1620.8,633.8 1618.0,618.5 1615.8,602.9 1614.4,586.9 1613.6,570.6 1613.5,554.0 1614.1,537.4 1615.4,520.7 1617.4,504.1 1620.0,487.6 1623.3,471.3 1627.2,455.2 1631.7,439.5 1636.8,424.3 1642.5,409.6 1648.7,395.4 1655.5,381.9 1662.7,369.1 1670.4,357.1 1678.5,345.9 1686.9,335.6 1695.7,326.2 1704.8,317.9 1714.1,310.5 1723.6,304.2 1733.2,299.1 1743.0,295.0 1752.8,292.1 1762.6,290.3 1772.3,289.7" fill="none" stroke="#0000ff" stroke-width="5" stroke-linejoin="round"/>
<polygon points="2011.2,373.8 2017.1,387.8 2021.6,402.4 2024.6,417.5 2026.2,433.1 2026.3,449.1 2024.9,465.4 2022.1,481.9 2017.8,498.6 2012.0,515.4 2004.9,532.1 1996.4,548.7 1986.6,565.2 1975.5,581.4 1963.2,597.2 1949.7,612.7 1935.1,627.7 1919.5,642.1 1902.9,655.8 1885.5,668.9 1867.2,681.2 1848.3,692.7 1828.8,703.3 1808.8,713.0 1788.3,721.7 1767.6,729.4 1746.6,736.0 1725.5,741.5 1704.4,745.9 1683.5,749.2 1662.7,751.4 1642.2,752.3 1622.1,752.1 1602.5,750.7 1583.5,748.2 1565.2,744.5 1547.6,739.7 1531.0,733.8 1515.2,726.8 1500.5,718.8 1486.9,709.7 1474.4,699.7 1463.2,688.8 1453.2,677.0 1444.5,664.4 1437.2,651.1 1431.3,637.1 1426.8,622.5 1423.8,607.3 1422.3,591.7 1422.2,575.7 1423.5,559.4 1426.4,542.9 1430.7,526.2 1436.4,509.5 1443.5,492.8 1452.0,476.1 1461.9,459.7 1473.0,443.5 1485.3,427.6 1498.8,412.2 1513.4,397.2 1529.0,382.8 1545.6,369.0 1563.0,355.9 1581.2,343.6 1600.1,332.1 1619.7,321.5 1639.7,311.9 1660.1,303.2 1680.9,295.5 1701.9,288.9 1722.9,283.3 1744.0,278.9 1765.0,275.6 1785.8,273.5 1806.3,272.5 1826.4,272.7 1846.0,274.1 1865.0,276.6 1883.3,280.3 1900.8,285.1 1917.5,291.1 1933.2,298.1 1947.9,306.1 1961.6,315.1 1974.0,325.2 1985.3,336.1 1995.3,347.9 2003.9,360.4" fill="none" stroke="#ff9000" stroke-width="5" stroke-linejoin="round"/>
<polygon points="1650.9,562.6 1648.2,555.2 1646.2,547.5 1645.0,539.5 1644.6,531.4 1644.8,523.2 1645.9,514.8 1647.6,506.4 1650.1,497.9 1653.3,489.5 1657.2,481.1 1661.9,472.8 1667.1,464.7 1673.0,456.7 1679.5,449.0 1686.6,441.5 1694.3,434.3 1702.4,427.4 1711.0,420.9 1720.0,414.8 1729.4,409.1 1739.2,403.8 1749.2,399.0 1759.4,394.7 1769.9,391.0 1780.5,387.7 1791.1,385.1 1801.8,383.0 1812.5,381.4 1823.1,380.5 1833.6,380.1 1843.9,380.4 1854.0,381.2 1863.8,382.6 1873.3,384.6 1882.5,387.1 1891.2,390.2 1899.4,393.9 1907.2,398.1 1914.4,402.7 1921.1,407.9 1927.2,413.5 1932.6,419.5 1937.4,426.0 1941.5,432.8 1944.9,439.9 1947.6,447.3 1949.5,455.0 1950.7,463.0 1951.2,471.1 1950.9,479.3 1949.9,487.7 1948.1,496.1 1945.6,504.6 1942.4,513.0 1938.5,521.4 1933.9,529.7 1928.6,537.8 1922.7,545.8 1916.2,553.5 1909.1,561.0 1901.5,568.2 1893.3,575.1 1884.7,581.6 1875.7,587.8 1866.3,593.5 1856.6,598.7 1846.6,603.5 1836.3,607.8 1825.9,611.5 1815.3,614.8 1804.6,617.4 1793.9,619.5 1783.2,621.1 1772.6,622.0 1762.1,622.4 1751.8,622.1 1741.7,621.3 1731.9,619.9 1722.4,617.9 1713.3,615.4 1704.6,612.3 1696.3,608.6 1688.5,604.5 1681.3,599.8 1674.6,594.6 1668.6,589.0 1663.1,583.0 1658.4,576.5 1654.3,569.7" fill="none" stroke="#00ff00" stroke-width="5" stroke-linejoin="round"/>
<polygon points="1509.4,544.6 1512.0,535.9 1515.4,527.5 1519.5,519.3 1524.3,511.5 1529.8,504.0 1535.9,496.9 1542.7,490.2 1550.1,484.0 1558.1,478.3 1566.5,473.1 1575.5,468.4 1584.9,464.3 1594.7,460.8 1604.8,457.9 1615.2,455.6 1625.9,453.9 1636.7,452.9 1647.7,452.5 1658.8,452.7 1670.0,453.6 1681.1,455.2 1692.1,457.3 1703.0,460.1 1713.7,463.5 1724.2,467.4 1734.4,472.0 1744.2,477.0 1753.7,482.7 1762.8,488.8 1771.3,495.3 1779.4,502.3 1786.9,509.7 1793.8,517.5 1800.1,525.6 1805.7,534.0 1810.7,542.6 1814.9,551.4 1818.5,560.4 1821.2,569.5 1823.2,578.7 1824.5,587.9 1825.0,597.0 1824.6,606.2 1823.6,615.2 1821.7,624.0 1819.1,632.7 1815.7,641.2 1811.7,649.3 1806.8,657.2 1801.4,664.6 1795.2,671.7 1788.4,678.4 1781.0,684.6 1773.1,690.3 1764.6,695.5 1755.7,700.2 1746.3,704.3 1736.5,707.8 1726.4,710.7 1715.9,713.0 1705.3,714.7 1694.4,715.7 1683.4,716.1 1672.3,715.9 1661.2,715.0 1650.1,713.5 1639.1,711.3 1628.2,708.5 1617.4,705.2 1607.0,701.2 1596.8,696.7 1586.9,691.6 1577.4,686.0 1568.4,679.9 1559.8,673.3 1551.7,666.3 1544.2,658.9 1537.3,651.1 1531.0,643.0 1525.4,634.7 1520.5,626.0 1516.2,617.2 1512.7,608.2 1509.9,599.1 1507.9,590.0 1506.7,580.8 1506.2,571.6 1506.5,562.5 1507.6,553.4" fill="none" stroke="#000000" stroke-width="5" stroke-linejoin="round"/>
<polygon points="1735.4,383.8 1755.9,390.5 1775.8,398.8 1795.1,408.6 1813.7,419.9 1831.4,432.6 1848.2,446.6 1864.0,461.9 1878.7,478.4 1892.3,496.0 1904.7,514.7 1915.7,534.3 1925.5,554.8 1933.8,576.0 1940.7,597.8 1946.2,620.2 1950.2,643.1 1952.7,666.2 1953.7,689.6 1953.1,713.1 1951.1,736.5 1947.5,759.8 1942.5,782.9 1936.0,805.6 1928.0,827.8 1918.7,849.5 1908.0,870.4 1896.0,890.6 1882.8,909.9 1868.4,928.2 1852.9,945.5 1836.4,961.6 1818.9,976.4 1800.6,990.0 1781.5,1002.2 1761.7,1012.9 1741.4,1022.2 1720.5,1030.0 1699.3,1036.2 1677.8,1040.8 1656.1,1043.8 1634.3,1045.1 1612.6,1044.8 1591.1,1042.9 1569.7,1039.4 1548.8,1034.2 1528.3,1027.5 1508.3,1019.2 1489.0,1009.4 1470.4,998.1 1452.7,985.4 1435.9,971.4 1420.1,956.1 1405.4,939.6 1391.8,922.0 1379.5,903.3 1368.4,883.7 1358.7,863.2 1350.3,842.0 1343.4,820.1 1337.9,797.7 1333.9,774.9 1331.4,751.7 1330.4,728.4 1331.0,704.9 1333.0,681.5 1336.6,658.1 1341.6,635.1 1348.2,612.4 1356.1,590.2 1365.4,568.5 1376.1,547.5 1388.1,527.4 1401.3,508.1 1415.7,489.8 1431.2,472.5 1447.7,456.4 1465.2,441.5 1483.5,428.0 1502.6,415.8 1522.4,405.0 1542.8,395.7 1563.6,388.0 1584.8,381.8 1606.3,377.2 1628.0,374.2 1649.8,372.9 1671.5,373.1 1693.1,375.1 1714.4,378.6" fill="none" stroke="#ff0000" stroke-width="5" stroke-linejoin="round"/>
<polygon points="1799.8,273.5 1809.7,275.5 1819.4,278.7 1828.8,283.1 1837.9,288.6 1846.6,295.2 1854.9,303.0 1862.8,311.7 1870.2,321.5 1877.2,332.3 1883.5,344.0 1889.3,356.5 1894.5,369.8 1899.1,383.9 1903.0,398.6 1906.2,413.9 1908.7,429.7 1910.6,446.0 1911.7,462.6 1912.1,479.5 1911.8,496.5 1910.8,513.7 1909.1,531.0 1906.7,548.1 1903.6,565.1 1899.8,581.9 1895.4,598.4 1890.3,614.5 1884.6,630.2 1878.3,645.3 1871.5,659.8 1864.2,673.6 1856.4,686.7 1848.1,698.9 1839.4,710.3 1830.4,720.7 1821.1,730.2 1811.5,738.6 1801.6,746.0 1791.6,752.2 1781.4,757.4 1771.2,761.3 1761.0,764.1 1750.7,765.7 1740.6,766.1 1730.5,765.3 1720.6,763.3 1711.0,760.1 1701.6,755.8 1692.5,750.2 1683.8,743.6 1675.4,735.9 1667.5,727.1 1660.1,717.3 1653.2,706.5 1646.8,694.8 1641.0,682.3 1635.9,669.0 1631.3,654.9 1627.4,640.2 1624.2,624.9 1621.6,609.1 1619.8,592.9 1618.6,576.3 1618.2,559.4 1618.5,542.3 1619.5,525.1 1621.2,507.9 1623.7,490.7 1626.8,473.7 1630.6,456.9 1635.0,440.4 1640.1,424.3 1645.7,408.6 1652.0,393.5 1658.8,379.0 1666.2,365.2 1674.0,352.2 1682.2,339.9 1690.9,328.5 1699.9,318.1 1709.3,308.6 1718.9,300.2 1728.7,292.8 1738.8,286.6 1748.9,281.5 1759.1,277.5 1769.4,274.7 1779.6,273.1 1789.8,272.7" fill="none" stroke="#0000ff" stroke-width="5" stroke-linejoin="round"/>
<polygon points="2016.9,351.3 2023.1,365.7 2027.9,380.8 2031.2,396.4 2032.9,412.5 2033.1,429.1 2031.9,446.0 2029.0,463.1 2024.7,480.4 2019.0,497.7 2011.7,515.1 2003.1,532.4 1993.1,549.5 1981.7,566.4 1969.1,582.9 1955.3,599.0 1940.3,614.7 1924.2,629.7 1907.2,644.1 1889.3,657.8 1870.5,670.7 1851.0,682.8 1830.9,693.9 1810.3,704.1 1789.2,713.3 1767.8,721.4 1746.1,728.5 1724.4,734.4 1702.6,739.2 1680.9,742.8 1659.4,745.2 1638.2,746.4 1617.4,746.3 1597.1,745.1 1577.4,742.7 1558.4,739.0 1540.2,734.2 1522.9,728.2 1506.6,721.1 1491.3,713.0 1477.1,703.7 1464.1,693.5 1452.3,682.3 1441.9,670.2 1432.8,657.2 1425.1,643.5 1418.9,629.1 1414.2,614.0 1410.9,598.4 1409.1,582.3 1408.9,565.7 1410.2,548.8 1413.0,531.7 1417.3,514.4 1423.1,497.0 1430.3,479.7 1439.0,462.4 1449.0,445.3 1460.3,428.4 1473.0,411.9 1486.8,395.8 1501.8,380.1 1517.8,365.1 1534.8,350.7 1552.8,337.0 1571.5,324.1 1591.0,312.0 1611.1,300.9 1631.8,290.7 1652.9,281.5 1674.3,273.4 1695.9,266.3 1717.7,260.4 1739.5,255.6 1761.2,252.0 1782.7,249.6 1803.9,248.4 1824.7,248.5 1845.0,249.7 1864.6,252.1 1883.6,255.8 1901.8,260.6 1919.1,266.6 1935.5,273.7 1950.8,281.8 1965.0,291.1 1978.0,301.3 1989.7,312.5 2000.2,324.6 2009.2,337.5" fill="none" stroke="#ff9000" stroke-width="5" stroke-linejoin="round"/>
<polygon points="1632.9,541.7 1630.5,533.7 1628.8,525.5 1628.0,517.1 1628.0,508.5 1628.8,499.8 1630.4,491.1 1632.8,482.2 1635.9,473.4 1639.9,464.7 1644.5,456.0 1649.9,447.5 1656.0,439.2 1662.8,431.1 1670.2,423.2 1678.3,415.6 1686.8,408.4 1695.9,401.5 1705.5,395.0 1715.5,389.0 1725.9,383.4 1736.6,378.3 1747.6,373.8 1758.8,369.7 1770.2,366.3 1781.7,363.4 1793.2,361.0 1804.8,359.3 1816.3,358.2 1827.7,357.7 1838.9,357.8 1849.9,358.5 1860.6,359.9 1871.0,361.8 1881.0,364.4 1890.6,367.5 1899.8,371.2 1908.4,375.4 1916.4,380.2 1923.9,385.4 1930.7,391.2 1936.8,397.4 1942.3,404.0 1947.0,411.0 1951.0,418.4 1954.2,426.1 1956.6,434.0 1958.2,442.2 1959.0,450.7 1959.1,459.2 1958.3,467.9 1956.7,476.7 1954.3,485.5 1951.1,494.3 1947.2,503.0 1942.5,511.7 1937.1,520.2 1931.0,528.6 1924.2,536.7 1916.8,544.6 1908.8,552.1 1900.2,559.4 1891.1,566.2 1881.6,572.7 1871.6,578.7 1861.2,584.3 1850.5,589.4 1839.5,594.0 1828.3,598.0 1816.9,601.5 1805.4,604.4 1793.8,606.7 1782.3,608.4 1770.8,609.5 1759.4,610.0 1748.2,609.9 1737.2,609.2 1726.5,607.9 1716.1,605.9 1706.0,603.4 1696.4,600.3 1687.3,596.6 1678.7,592.3 1670.7,587.6 1663.2,582.3 1656.4,576.6 1650.3,570.4 1644.8,563.7 1640.1,556.7 1636.1,549.4" fill="none" stroke="#00ff00" stroke-width="5" stroke-linejoin="round"/>
<polygon points="1504.7,540.8 1507.8,532.0 1511.6,523.5 1516.2,515.3 1521.5,507.4 1527.5,499.9 1534.1,492.9 1541.4,486.3 1549.3,480.3 1557.7,474.7 1566.7,469.7 1576.1,465.3 1585.9,461.5 1596.2,458.3 1606.7,455.8 1617.6,453.9 1628.7,452.6 1639.9,452.1 1651.3,452.1 1662.7,452.9 1674.1,454.3 1685.5,456.3 1696.8,459.1 1707.9,462.4 1718.8,466.3 1729.4,470.9 1739.7,476.0 1749.7,481.7 1759.2,487.9 1768.3,494.5 1776.8,501.7 1784.8,509.2 1792.2,517.2 1799.0,525.5 1805.2,534.1 1810.6,543.0 1815.3,552.0 1819.3,561.3 1822.6,570.7 1825.0,580.2 1826.7,589.7 1827.6,599.3 1827.7,608.7 1827.0,618.1 1825.5,627.3 1823.2,636.4 1820.1,645.2 1816.3,653.7 1811.7,661.9 1806.4,669.8 1800.4,677.3 1793.8,684.3 1786.5,690.9 1778.6,696.9 1770.2,702.5 1761.2,707.5 1751.8,711.9 1741.9,715.7 1731.7,718.9 1721.1,721.4 1710.3,723.3 1699.2,724.6 1688.0,725.1 1676.6,725.1 1665.2,724.3 1653.8,722.9 1642.4,720.9 1631.1,718.2 1620.0,714.8 1609.1,710.9 1598.5,706.3 1588.2,701.2 1578.2,695.5 1568.7,689.3 1559.6,682.7 1551.1,675.5 1543.1,668.0 1535.7,660.0 1528.9,651.7 1522.7,643.1 1517.3,634.2 1512.6,625.2 1508.6,615.9 1505.3,606.5 1502.9,597.0 1501.2,587.5 1500.3,577.9 1500.2,568.5 1500.9,559.1 1502.4,549.9" fill="none" stroke="#000000" stroke-width="5" stroke-linejoin="round"/>
<polygon points="1729.2,385.3 1750.7,391.1 1771.6,398.6 1792.0,407.7 1811.7,418.3 1830.6,430.4 1848.6,443.9 1865.7,458.8 1881.7,474.9 1896.6,492.3 1910.3,510.8 1922.7,530.3 1933.8,550.8 1943.5,572.1 1951.8,594.1 1958.6,616.8 1963.9,640.0 1967.7,663.5 1969.9,687.4 1970.6,711.4 1969.7,735.5 1967.3,759.6 1963.3,783.4 1957.8,807.0 1950.9,830.2 1942.4,852.8 1932.5,874.8 1921.3,896.1 1908.7,916.5 1894.9,935.9 1879.8,954.4 1863.7,971.7 1846.5,987.8 1828.4,1002.6 1809.4,1016.0 1789.6,1028.0 1769.1,1038.6 1748.1,1047.5 1726.6,1054.9 1704.7,1060.7 1682.6,1064.9 1660.3,1067.4 1637.9,1068.2 1615.7,1067.3 1593.5,1064.7 1571.7,1060.5 1550.2,1054.6 1529.3,1047.1 1508.9,1038.0 1489.2,1027.4 1470.3,1015.4 1452.3,1001.8 1435.2,987.0 1419.2,970.8 1404.3,953.4 1390.6,935.0 1378.2,915.4 1367.1,895.0 1357.4,873.7 1349.1,851.6 1342.3,829.0 1337.0,805.8 1333.2,782.2 1331.0,758.3 1330.3,734.3 1331.2,710.2 1333.6,686.2 1337.6,662.3 1343.1,638.7 1350.0,615.6 1358.5,593.0 1368.4,571.0 1379.6,549.7 1392.2,529.3 1406.0,509.8 1421.1,491.4 1437.2,474.1 1454.4,458.0 1472.5,443.2 1491.5,429.7 1511.3,417.7 1531.8,407.2 1552.8,398.2 1574.3,390.8 1596.2,385.0 1618.3,380.9 1640.6,378.4 1663.0,377.6 1685.3,378.5 1707.4,381.0" fill="none" stroke="#ff0000" stroke-width="5" stroke-linejoin="round"/>
<polygon points="1794.4,270.9 1804.6,273.3 1814.5,276.9 1824.1,281.8 1833.4,287.8 1842.2,294.9 1850.6,303.2 1858.6,312.5 1865.9,322.9 1872.8,334.2 1879.0,346.5 1884.6,359.7 1889.6,373.6 1893.8,388.3 1897.4,403.6 1900.3,419.5 1902.4,435.9 1903.8,452.8 1904.5,470.0 1904.4,487.4 1903.5,505.1 1901.9,522.8 1899.6,540.5 1896.5,558.2 1892.8,575.7 1888.3,592.9 1883.2,609.8 1877.4,626.3 1871.0,642.3 1864.0,657.7 1856.5,672.4 1848.4,686.4 1839.9,699.7 1830.9,712.0 1821.6,723.5 1811.9,734.0 1801.8,743.4 1791.6,751.8 1781.1,759.1 1770.5,765.2 1759.9,770.2 1749.1,774.0 1738.4,776.5 1727.7,777.8 1717.1,777.9 1706.7,776.7 1696.5,774.3 1686.6,770.7 1677.0,765.9 1667.8,759.9 1658.9,752.7 1650.5,744.4 1642.6,735.1 1635.2,724.7 1628.4,713.4 1622.1,701.1 1616.5,688.0 1611.6,674.0 1607.3,659.3 1603.7,644.0 1600.8,628.1 1598.7,611.7 1597.3,594.8 1596.7,577.6 1596.8,560.2 1597.6,542.5 1599.2,524.8 1601.6,507.1 1604.6,489.4 1608.4,471.9 1612.8,454.7 1618.0,437.8 1623.8,421.3 1630.2,405.4 1637.1,390.0 1644.7,375.2 1652.7,361.2 1661.3,348.0 1670.2,335.6 1679.6,324.1 1689.3,313.6 1699.3,304.2 1709.5,295.8 1720.0,288.5 1730.6,282.4 1741.3,277.4 1752.0,273.7 1762.8,271.1 1773.4,269.8 1784.0,269.7" fill="none" stroke="#0000ff" stroke-width="5" stroke-linejoin="round"/>
<polygon points="2061.0,393.9 2066.1,409.3 2069.8,425.3 2071.8,441.6 2072.2,458.4 2071.0,475.5 2068.2,492.7 2063.9,510.1 2058.0,527.6 2050.5,545.0 2041.6,562.3 2031.2,579.3 2019.4,596.1 2006.3,612.5 1991.8,628.5 1976.2,643.9 1959.4,658.7 1941.6,672.8 1922.8,686.2 1903.2,698.8 1882.8,710.5 1861.7,721.2 1840.0,731.0 1817.8,739.8 1795.3,747.4 1772.5,754.0 1749.6,759.4 1726.7,763.7 1703.8,766.7 1681.2,768.6 1658.8,769.2 1636.9,768.6 1615.4,766.8 1594.6,763.8 1574.5,759.7 1555.3,754.3 1537.0,747.8 1519.6,740.2 1503.4,731.5 1488.3,721.7 1474.5,711.0 1462.0,699.4 1450.8,686.8 1441.1,673.5 1432.9,659.4 1426.2,644.6 1421.0,629.2 1417.4,613.3 1415.3,596.9 1414.9,580.1 1416.1,563.1 1418.9,545.8 1423.2,528.4 1429.1,511.0 1436.6,493.6 1445.5,476.3 1455.9,459.2 1467.7,442.4 1480.9,426.0 1495.3,410.1 1510.9,394.7 1527.7,379.8 1545.5,365.7 1564.3,352.3 1583.9,339.8 1604.3,328.1 1625.5,317.3 1647.1,307.5 1669.3,298.8 1691.8,291.1 1714.6,284.5 1737.5,279.1 1760.4,274.9 1783.3,271.8 1805.9,270.0 1828.3,269.3 1850.3,269.9 1871.7,271.7 1892.5,274.7 1912.6,278.9 1931.8,284.3 1950.1,290.8 1967.5,298.4 1983.7,307.1 1998.8,316.8 2012.6,327.5 2025.1,339.2 2036.3,351.7 2046.0,365.1 2054.2,379.2" fill="none" stroke="#ff9000" stroke-width="5" stroke-linejoin="round"/>
<polygon points="1629.5,549.4 1626.5,541.2 1624.3,532.7 1623.0,523.9 1622.5,514.9 1622.9,505.7 1624.1,496.4 1626.1,487.0 1629.0,477.5 1632.8,468.1 1637.3,458.7 1642.6,449.3 1648.6,440.2 1655.4,431.2 1662.8,422.5 1671.0,414.0 1679.7,405.8 1689.0,398.0 1698.8,390.6 1709.1,383.6 1719.9,377.1 1731.0,371.0 1742.4,365.5 1754.1,360.5 1766.0,356.1 1778.1,352.3 1790.2,349.2 1802.4,346.6 1814.6,344.7 1826.7,343.4 1838.6,342.8 1850.4,342.9 1861.8,343.6 1873.0,345.0 1883.8,347.0 1894.2,349.6 1904.1,352.9 1913.4,356.8 1922.2,361.3 1930.4,366.4 1938.0,372.0 1944.9,378.1 1951.0,384.7 1956.4,391.8 1961.0,399.3 1964.8,407.1 1967.8,415.3 1970.0,423.9 1971.4,432.7 1971.8,441.7 1971.5,450.9 1970.3,460.2 1968.2,469.6 1965.3,479.1 1961.6,488.5 1957.1,497.9 1951.8,507.2 1945.7,516.4 1939.0,525.4 1931.5,534.1 1923.4,542.6 1914.7,550.7 1905.4,558.6 1895.5,566.0 1885.2,573.0 1874.5,579.5 1863.4,585.5 1851.9,591.1 1840.2,596.0 1828.3,600.4 1816.3,604.2 1804.1,607.4 1791.9,610.0 1779.7,611.9 1767.7,613.1 1755.7,613.7 1744.0,613.7 1732.5,613.0 1721.3,611.6 1710.6,609.6 1700.2,606.9 1690.3,603.6 1680.9,599.7 1672.1,595.3 1663.9,590.2 1656.4,584.6 1649.5,578.5 1643.3,571.9 1637.9,564.8 1633.3,557.3" fill="none" stroke="#00ff00" stroke-width="5" stroke-linejoin="round"/>
<polygon points="1495.2,564.6 1496.9,555.2 1499.4,545.9 1502.7,536.8 1506.9,528.0 1511.8,519.4 1517.4,511.2 1523.8,503.4 1530.8,495.9 1538.5,489.0 1546.8,482.5 1555.7,476.5 1565.2,471.0 1575.1,466.2 1585.4,461.9 1596.2,458.2 1607.2,455.2 1618.6,452.8 1630.2,451.1 1641.9,450.0 1653.8,449.6 1665.7,449.9 1677.6,450.8 1689.5,452.5 1701.2,454.7 1712.8,457.7 1724.1,461.2 1735.1,465.4 1745.8,470.2 1756.1,475.5 1766.0,481.4 1775.3,487.8 1784.2,494.7 1792.4,502.1 1800.0,509.8 1807.0,518.0 1813.3,526.5 1818.8,535.3 1823.6,544.3 1827.6,553.6 1830.9,563.0 1833.3,572.5 1834.9,582.1 1835.7,591.8 1835.6,601.4 1834.8,611.0 1833.0,620.4 1830.5,629.7 1827.2,638.8 1823.1,647.6 1818.2,656.2 1812.5,664.4 1806.1,672.2 1799.1,679.7 1791.4,686.6 1783.1,693.1 1774.2,699.1 1764.8,704.6 1754.8,709.4 1744.5,713.7 1733.7,717.4 1722.7,720.4 1711.3,722.8 1699.7,724.5 1688.0,725.6 1676.1,726.0 1664.2,725.7 1652.3,724.8 1640.4,723.1 1628.7,720.9 1617.2,717.9 1605.8,714.4 1594.8,710.2 1584.1,705.4 1573.8,700.1 1564.0,694.2 1554.6,687.8 1545.8,680.9 1537.5,673.5 1529.9,665.8 1522.9,657.6 1516.7,649.1 1511.1,640.3 1506.3,631.3 1502.3,622.0 1499.0,612.6 1496.6,603.1 1495.0,593.4 1494.2,583.8 1494.3,574.2" fill="none" stroke="#000000" stroke-width="5" stroke-linejoin="round"/>
<polygon points="1683.6,360.2 1706.2,364.1 1728.4,369.6 1750.2,376.9 1771.4,385.8 1792.0,396.3 1811.8,408.3 1830.8,421.8 1848.8,436.7 1865.7,452.9 1881.6,470.4 1896.3,489.1 1909.7,508.9 1921.7,529.7 1932.4,551.3 1941.7,573.8 1949.4,596.9 1955.6,620.6 1960.3,644.7 1963.4,669.1 1964.9,693.8 1964.8,718.5 1963.1,743.2 1959.8,767.8 1955.0,792.1 1948.6,816.0 1940.6,839.4 1931.2,862.1 1920.4,884.2 1908.1,905.4 1894.6,925.6 1879.8,944.9 1863.8,962.9 1846.7,979.8 1828.5,995.4 1809.5,1009.5 1789.6,1022.3 1768.9,1033.5 1747.6,1043.1 1725.8,1051.2 1703.5,1057.6 1680.9,1062.3 1658.1,1065.3 1635.2,1066.5 1612.3,1066.1 1589.5,1063.9 1566.9,1060.0 1544.7,1054.4 1522.9,1047.2 1501.7,1038.3 1481.1,1027.8 1461.3,1015.8 1442.4,1002.3 1424.4,987.4 1407.4,971.1 1391.5,953.6 1376.9,934.9 1363.5,915.1 1351.4,894.4 1340.7,872.7 1331.5,850.3 1323.7,827.2 1317.5,803.5 1312.8,779.4 1309.7,754.9 1308.2,730.3 1308.3,705.6 1310.0,680.8 1313.3,656.3 1318.2,632.0 1324.6,608.1 1332.5,584.7 1341.9,561.9 1352.8,539.9 1365.0,518.7 1378.6,498.4 1393.4,479.2 1409.4,461.1 1426.5,444.3 1444.6,428.7 1463.7,414.5 1483.6,401.8 1504.2,390.6 1525.5,380.9 1547.3,372.9 1569.6,366.5 1592.2,361.8 1615.0,358.8 1637.9,357.5 1660.8,358.0" fill="none" stroke="#ff0000" stroke-width="5" stroke-linejoin="round"/>
<polygon points="1795.1,264.9 1805.7,267.1 1816.1,270.5 1826.2,275.3 1836.0,281.2 1845.4,288.3 1854.3,296.6 1862.8,306.0 1870.8,316.5 1878.2,328.1 1885.0,340.6 1891.2,354.0 1896.8,368.2 1901.6,383.2 1905.8,399.0 1909.3,415.3 1911.9,432.2 1913.9,449.5 1915.1,467.3 1915.5,485.3 1915.1,503.5 1914.0,521.9 1912.1,540.2 1909.4,558.6 1906.0,576.7 1901.9,594.6 1897.1,612.2 1891.6,629.4 1885.4,646.0 1878.7,662.1 1871.3,677.6 1863.3,692.3 1854.9,706.2 1846.0,719.2 1836.6,731.3 1826.9,742.4 1816.8,752.4 1806.4,761.4 1795.8,769.2 1785.0,775.8 1774.0,781.2 1763.0,785.4 1752.0,788.3 1740.9,790.0 1730.0,790.3 1719.2,789.4 1708.5,787.2 1698.1,783.8 1688.0,779.1 1678.3,773.1 1668.9,766.0 1659.9,757.7 1651.4,748.3 1643.5,737.8 1636.1,726.3 1629.2,713.8 1623.0,700.4 1617.5,686.1 1612.6,671.1 1608.4,655.4 1605.0,639.0 1602.3,622.1 1600.4,604.8 1599.2,587.0 1598.8,569.0 1599.1,550.8 1600.3,532.4 1602.2,514.1 1604.8,495.8 1608.2,477.6 1612.3,459.7 1617.2,442.1 1622.7,424.9 1628.8,408.3 1635.6,392.2 1643.0,376.8 1650.9,362.0 1659.4,348.2 1668.3,335.1 1677.7,323.0 1687.4,311.9 1697.5,301.9 1707.9,293.0 1718.5,285.1 1729.3,278.5 1740.2,273.1 1751.3,268.9 1762.3,266.0 1773.3,264.3 1784.3,264.0" fill="none" stroke="#0000ff" stroke-width="5" stroke-linejoin="round"/>
<polygon points="2056.0,345.8 2062.4,361.3 2067.3,377.4 2070.5,394.2 2072.1,411.4 2072.2,429.1 2070.5,447.0 2067.3,465.3 2062.4,483.7 2056.0,502.1 2048.0,520.6 2038.5,538.9 2027.6,557.0 2015.2,574.9 2001.5,592.3 1986.5,609.3 1970.3,625.8 1952.9,641.6 1934.5,656.7 1915.2,671.1 1894.9,684.6 1874.0,697.2 1852.3,708.8 1830.1,719.4 1807.4,729.0 1784.5,737.4 1761.2,744.6 1737.9,750.6 1714.6,755.4 1691.4,758.9 1668.4,761.2 1645.7,762.2 1623.5,761.9 1601.9,760.3 1580.9,757.4 1560.6,753.2 1541.3,747.9 1522.9,741.3 1505.5,733.5 1489.3,724.5 1474.3,714.5 1460.6,703.4 1448.2,691.3 1437.2,678.2 1427.7,664.3 1419.8,649.6 1413.3,634.1 1408.5,617.9 1405.2,601.2 1403.6,584.0 1403.6,566.3 1405.2,548.3 1408.4,530.1 1413.3,511.7 1419.7,493.3 1427.7,474.8 1437.2,456.5 1448.2,438.4 1460.5,420.5 1474.3,403.1 1489.3,386.1 1505.5,369.6 1522.8,353.8 1541.2,338.6 1560.6,324.3 1580.8,310.8 1601.8,298.2 1623.4,286.5 1645.6,275.9 1668.3,266.4 1691.3,258.0 1714.5,250.8 1737.8,244.8 1761.2,240.0 1784.4,236.5 1807.4,234.2 1830.0,233.2 1852.2,233.5 1873.9,235.1 1894.9,238.0 1915.1,242.1 1934.4,247.5 1952.8,254.1 1970.2,261.9 1986.4,270.9 2001.4,280.9 2015.1,292.0 2027.5,304.1 2038.5,317.2 2048.0,331.1" fill="none" stroke="#ff9000" stroke-width="5" stroke-linejoin="round"/>
<polygon points="1606.8,568.1 1604.2,559.3 1602.6,550.3 1601.8,541.0 1602.0,531.5 1603.1,521.9 1605.1,512.2 1607.9,502.5 1611.7,492.7 1616.3,483.1 1621.8,473.5 1628.1,464.1 1635.2,454.9 1643.1,445.9 1651.6,437.3 1660.8,428.9 1670.7,420.9 1681.1,413.3 1692.1,406.2 1703.5,399.5 1715.4,393.4 1727.6,387.8 1740.1,382.8 1752.9,378.3 1765.8,374.5 1778.9,371.3 1792.0,368.8 1805.1,366.9 1818.1,365.7 1831.0,365.1 1843.6,365.3 1856.1,366.1 1868.2,367.6 1879.9,369.8 1891.1,372.6 1901.9,376.0 1912.2,380.1 1921.8,384.8 1930.8,390.1 1939.1,395.9 1946.7,402.3 1953.5,409.2 1959.5,416.5 1964.7,424.2 1969.0,432.4 1972.4,440.9 1975.0,449.7 1976.7,458.8 1977.4,468.1 1977.3,477.5 1976.2,487.2 1974.2,496.8 1971.3,506.6 1967.5,516.3 1962.9,526.0 1957.4,535.5 1951.1,544.9 1944.0,554.1 1936.2,563.1 1927.6,571.8 1918.4,580.1 1908.6,588.1 1898.1,595.7 1887.2,602.8 1875.7,609.5 1863.9,615.6 1851.7,621.2 1839.1,626.3 1826.4,630.7 1813.4,634.5 1800.4,637.7 1787.3,640.3 1774.2,642.1 1761.2,643.4 1748.3,643.9 1735.6,643.8 1723.2,642.9 1711.1,641.4 1699.4,639.3 1688.1,636.5 1677.3,633.0 1667.1,628.9 1657.5,624.2 1648.5,618.9 1640.2,613.1 1632.6,606.7 1625.8,599.9 1619.8,592.5 1614.6,584.8 1610.3,576.6" fill="none" stroke="#00ff00" stroke-width="5" stroke-linejoin="round"/>
<polygon points="1485.2,572.5 1487.2,562.8 1490.0,553.3 1493.6,544.1 1498.1,535.1 1503.3,526.4 1509.3,518.1 1516.0,510.2 1523.5,502.7 1531.6,495.7 1540.3,489.2 1549.6,483.3 1559.4,477.9 1569.7,473.1 1580.5,469.0 1591.6,465.5 1603.1,462.6 1614.8,460.4 1626.8,458.9 1638.9,458.1 1651.1,457.9 1663.4,458.5 1675.6,459.7 1687.8,461.7 1699.8,464.3 1711.7,467.6 1723.2,471.5 1734.5,476.0 1745.4,481.2 1755.9,486.9 1765.9,493.2 1775.4,500.0 1784.3,507.3 1792.7,515.1 1800.3,523.2 1807.3,531.8 1813.6,540.7 1819.1,549.8 1823.8,559.2 1827.8,568.8 1830.9,578.6 1833.2,588.5 1834.6,598.4 1835.2,608.3 1834.9,618.2 1833.8,628.0 1831.8,637.7 1829.0,647.2 1825.4,656.5 1820.9,665.4 1815.7,674.1 1809.7,682.4 1803.0,690.3 1795.5,697.8 1787.4,704.8 1778.7,711.3 1769.4,717.2 1759.6,722.6 1749.3,727.4 1738.5,731.6 1727.4,735.1 1715.9,737.9 1704.2,740.1 1692.2,741.7 1680.1,742.5 1667.9,742.6 1655.6,742.0 1643.4,740.8 1631.2,738.9 1619.2,736.2 1607.3,733.0 1595.7,729.0 1584.5,724.5 1573.6,719.3 1563.1,713.6 1553.1,707.3 1543.6,700.5 1534.7,693.2 1526.3,685.5 1518.7,677.3 1511.7,668.8 1505.4,659.9 1499.9,650.7 1495.2,641.3 1491.2,631.7 1488.1,621.9 1485.8,612.1 1484.4,602.1 1483.8,592.2 1484.1,582.3" fill="none" stroke="#000000" stroke-width="5" stroke-linejoin="round"/>
<polygon points="1678.6,359.3 1701.8,363.7 1724.6,369.7 1746.8,377.5 1768.5,386.9 1789.5,397.9 1809.7,410.5 1829.0,424.6 1847.4,440.2 1864.6,457.1 1880.6,475.2 1895.5,494.6 1909.0,515.0 1921.1,536.5 1931.8,558.8 1941.0,581.9 1948.6,605.7 1954.7,630.0 1959.2,654.8 1962.0,679.8 1963.2,705.1 1962.8,730.4 1960.7,755.7 1956.9,780.7 1951.6,805.5 1944.7,829.9 1936.2,853.7 1926.2,876.9 1914.7,899.3 1901.9,920.8 1887.7,941.3 1872.2,960.7 1855.5,979.0 1837.6,996.0 1818.8,1011.7 1799.0,1025.9 1778.3,1038.6 1756.9,1049.8 1734.9,1059.3 1712.3,1067.2 1689.4,1073.4 1666.1,1077.9 1642.6,1080.6 1619.0,1081.5 1595.4,1080.7 1572.0,1078.1 1548.9,1073.8 1526.1,1067.8 1503.8,1060.0 1482.1,1050.6 1461.1,1039.5 1440.9,1026.9 1421.6,1012.8 1403.3,997.3 1386.1,980.4 1370.0,962.2 1355.2,942.9 1341.7,922.4 1329.6,901.0 1318.9,878.7 1309.7,855.6 1302.0,831.8 1296.0,807.5 1291.5,782.7 1288.7,757.7 1287.5,732.4 1287.9,707.1 1290.0,681.8 1293.7,656.7 1299.0,632.0 1306.0,607.6 1314.5,583.8 1324.4,560.6 1335.9,538.2 1348.8,516.7 1363.0,496.2 1378.5,476.7 1395.2,458.5 1413.0,441.5 1431.9,425.8 1451.7,411.6 1472.3,398.9 1493.7,387.7 1515.7,378.2 1538.3,370.3 1561.3,364.1 1584.6,359.6 1608.1,356.9 1631.7,356.0 1655.2,356.8" fill="none" stroke="#ff0000" stroke-width="5" stroke-linejoin="round"/>
<polygon points="1783.1,257.8 1794.1,259.9 1804.9,263.4 1815.5,268.1 1825.6,274.1 1835.5,281.4 1844.8,289.8 1853.7,299.4 1862.1,310.2 1869.9,322.0 1877.2,334.8 1883.8,348.5 1889.7,363.2 1894.9,378.6 1899.4,394.8 1903.2,411.6 1906.2,429.0 1908.4,446.9 1909.9,465.2 1910.5,483.7 1910.4,502.6 1909.4,521.5 1907.7,540.5 1905.2,559.4 1901.9,578.1 1897.9,596.7 1893.1,614.8 1887.6,632.6 1881.4,649.9 1874.6,666.6 1867.2,682.6 1859.1,697.8 1850.6,712.2 1841.5,725.8 1831.9,738.4 1822.0,749.9 1811.7,760.4 1801.0,769.7 1790.1,777.9 1779.0,784.9 1767.8,790.6 1756.4,795.0 1745.0,798.2 1733.6,800.0 1722.2,800.5 1711.0,799.7 1700.0,797.5 1689.2,794.1 1678.7,789.3 1668.5,783.3 1658.7,776.1 1649.3,767.6 1640.4,758.0 1632.0,747.3 1624.2,735.5 1616.9,722.6 1610.4,708.9 1604.4,694.3 1599.2,678.8 1594.7,662.7 1590.9,645.8 1587.9,628.4 1585.7,610.6 1584.2,592.3 1583.6,573.7 1583.7,554.9 1584.7,536.0 1586.4,517.0 1588.9,498.1 1592.2,479.3 1596.3,460.8 1601.0,442.6 1606.5,424.8 1612.7,407.6 1619.5,390.9 1627.0,374.9 1635.0,359.6 1643.6,345.2 1652.6,331.7 1662.2,319.1 1672.1,307.5 1682.5,297.1 1693.1,287.7 1704.0,279.5 1715.1,272.6 1726.4,266.9 1737.7,262.4 1749.1,259.3 1760.5,257.5 1771.9,257.0" fill="none" stroke="#0000ff" stroke-width="5" stroke-linejoin="round"/>
<polygon points="2069.9,382.3 2075.3,398.8 2079.0,415.8 2081.1,433.2 2081.4,451.1 2080.0,469.2 2076.9,487.6 2072.1,506.1 2065.7,524.6 2057.6,543.1 2048.0,561.4 2036.8,579.5 2024.1,597.3 2009.9,614.7 1994.5,631.6 1977.7,647.9 1959.7,663.6 1940.6,678.5 1920.5,692.6 1899.5,705.9 1877.6,718.2 1855.0,729.5 1831.8,739.8 1808.1,748.9 1784.1,756.9 1759.8,763.8 1735.3,769.4 1710.8,773.8 1686.5,776.9 1662.3,778.7 1638.5,779.2 1615.1,778.5 1592.3,776.4 1570.1,773.1 1548.7,768.5 1528.3,762.6 1508.8,755.6 1490.4,747.3 1473.1,738.0 1457.1,727.5 1442.5,716.0 1429.2,703.5 1417.5,690.1 1407.2,675.8 1398.5,660.8 1391.5,645.0 1386.1,628.6 1382.3,611.6 1380.3,594.1 1380.0,576.3 1381.4,558.1 1384.5,539.8 1389.2,521.3 1395.7,502.7 1403.7,484.2 1413.4,465.9 1424.6,447.8 1437.3,430.0 1451.4,412.6 1466.9,395.8 1483.7,379.4 1501.7,363.8 1520.8,348.9 1540.9,334.7 1561.9,321.5 1583.8,309.2 1606.4,297.9 1629.6,287.6 1653.2,278.4 1677.3,270.4 1701.6,263.6 1726.1,257.9 1750.5,253.6 1774.9,250.5 1799.1,248.7 1822.9,248.1 1846.3,248.9 1869.1,250.9 1891.3,254.3 1912.6,258.9 1933.1,264.7 1952.6,271.8 1971.0,280.0 1988.3,289.4 2004.2,299.8 2018.9,311.3 2032.1,323.8 2043.9,337.2 2054.2,351.5 2062.8,366.6" fill="none" stroke="#ff9000" stroke-width="5" stroke-linejoin="round"/>
<polygon points="1600.9,588.1 1597.3,579.2 1594.7,569.9 1592.9,560.3 1592.2,550.4 1592.4,540.2 1593.5,529.9 1595.6,519.5 1598.6,508.9 1602.5,498.3 1607.4,487.8 1613.1,477.3 1619.6,466.9 1627.0,456.7 1635.1,446.8 1644.0,437.1 1653.6,427.7 1663.8,418.7 1674.7,410.0 1686.0,401.9 1697.9,394.2 1710.2,387.0 1722.9,380.5 1735.9,374.5 1749.1,369.1 1762.6,364.4 1776.1,360.3 1789.7,356.9 1803.3,354.3 1816.8,352.3 1830.1,351.1 1843.3,350.6 1856.2,350.9 1868.7,351.9 1880.8,353.6 1892.5,356.1 1903.7,359.3 1914.3,363.1 1924.2,367.7 1933.6,372.9 1942.2,378.7 1950.0,385.1 1957.0,392.1 1963.2,399.6 1968.6,407.7 1973.1,416.2 1976.6,425.1 1979.3,434.4 1981.0,444.0 1981.7,453.9 1981.6,464.0 1980.4,474.3 1978.3,484.8 1975.3,495.3 1971.4,505.9 1966.6,516.5 1960.9,526.9 1954.3,537.3 1946.9,547.5 1938.8,557.5 1929.9,567.2 1920.3,576.6 1910.1,585.6 1899.3,594.2 1887.9,602.4 1876.0,610.0 1863.7,617.2 1851.0,623.8 1838.0,629.8 1824.8,635.2 1811.4,639.9 1797.8,643.9 1784.2,647.3 1770.7,650.0 1757.2,651.9 1743.8,653.1 1730.7,653.6 1717.8,653.3 1705.3,652.3 1693.1,650.6 1681.4,648.1 1670.3,645.0 1659.7,641.1 1649.7,636.6 1640.4,631.4 1631.8,625.6 1623.9,619.1 1616.9,612.1 1610.7,604.6 1605.3,596.6" fill="none" stroke="#00ff00" stroke-width="5" stroke-linejoin="round"/>
<polygon points="1685.4,362.6 1709.2,367.2 1732.5,373.5 1755.4,381.5 1777.7,391.2 1799.2,402.6 1820.0,415.6 1839.7,430.1 1858.5,446.1 1876.2,463.4 1892.6,482.1 1907.8,502.0 1921.6,522.9 1934.0,544.9 1944.9,567.8 1954.2,591.5 1962.0,615.8 1968.2,640.8 1972.7,666.1 1975.6,691.8 1976.7,717.6 1976.2,743.5 1974.0,769.3 1970.1,795.0 1964.5,820.3 1957.3,845.2 1948.5,869.5 1938.2,893.2 1926.3,916.0 1913.0,938.0 1898.3,958.9 1882.4,978.8 1865.1,997.4 1846.8,1014.7 1827.4,1030.6 1807.0,1045.0 1785.7,1058.0 1763.7,1069.3 1741.0,1079.0 1717.8,1086.9 1694.2,1093.2 1670.2,1097.6 1646.1,1100.3 1621.8,1101.2 1597.6,1100.2 1573.6,1097.5 1549.8,1093.0 1526.4,1086.7 1503.6,1078.6 1481.3,1068.9 1459.7,1057.5 1439.0,1044.5 1419.2,1030.0 1400.5,1014.0 1382.8,996.7 1366.4,978.0 1351.2,958.2 1337.4,937.2 1325.0,915.2 1314.1,892.3 1304.7,868.6 1296.9,844.3 1290.8,819.4 1286.3,794.0 1283.4,768.4 1282.3,742.5 1282.8,716.6 1285.0,690.8 1288.9,665.1 1294.5,639.8 1301.7,614.9 1310.5,590.6 1320.8,566.9 1332.7,544.1 1346.0,522.1 1360.6,501.2 1376.6,481.4 1393.8,462.8 1412.2,445.4 1431.6,429.5 1452.0,415.1 1473.3,402.1 1495.3,390.8 1517.9,381.2 1541.2,373.2 1564.8,366.9 1588.8,362.5 1612.9,359.8 1637.1,358.9 1661.3,359.9" fill="none" stroke="#ff0000" stroke-width="5" stroke-linejoin="round"/>
<polygon points="1798.6,237.8 1809.9,240.4 1821.0,244.4 1831.7,249.7 1842.0,256.3 1851.8,264.2 1861.2,273.3 1870.0,283.5 1878.3,294.9 1885.9,307.4 1892.9,320.9 1899.2,335.3 1904.7,350.6 1909.5,366.7 1913.6,383.5 1916.8,401.0 1919.3,419.0 1920.9,437.5 1921.7,456.4 1921.6,475.6 1920.7,494.9 1919.0,514.4 1916.5,533.9 1913.2,553.2 1909.1,572.4 1904.2,591.4 1898.5,609.9 1892.2,628.0 1885.1,645.5 1877.5,662.4 1869.1,678.6 1860.2,694.0 1850.8,708.5 1840.9,722.1 1830.6,734.7 1819.8,746.2 1808.8,756.5 1797.4,765.7 1785.8,773.7 1774.1,780.5 1762.2,785.9 1750.3,790.0 1738.4,792.8 1726.5,794.2 1714.8,794.3 1703.2,793.0 1691.9,790.4 1680.9,786.4 1670.2,781.1 1659.9,774.5 1650.0,766.6 1640.6,757.5 1631.8,747.3 1623.5,735.9 1615.9,723.4 1608.9,709.9 1602.7,695.5 1597.1,680.2 1592.3,664.1 1588.3,647.3 1585.0,629.8 1582.6,611.8 1581.0,593.3 1580.2,574.4 1580.2,555.2 1581.1,535.9 1582.8,516.4 1585.3,496.9 1588.6,477.5 1592.8,458.4 1597.6,439.4 1603.3,420.9 1609.6,402.8 1616.7,385.3 1624.4,368.4 1632.7,352.2 1641.6,336.8 1651.0,322.3 1660.9,308.7 1671.3,296.1 1682.0,284.6 1693.1,274.3 1704.4,265.0 1716.0,257.1 1727.8,250.3 1739.6,244.9 1751.5,240.8 1763.4,238.0 1775.3,236.6 1787.0,236.5" fill="none" stroke="#0000ff" stroke-width="5" stroke-linejoin="round"/>
<polygon points="2082.0,344.3 2088.1,361.0 2092.6,378.4 2095.3,396.3 2096.2,414.7 2095.5,433.4 2092.9,452.4 2088.7,471.7 2082.7,491.0 2075.0,510.3 2065.7,529.5 2054.8,548.6 2042.4,567.4 2028.4,585.8 2013.1,603.7 1996.4,621.1 1978.4,637.9 1959.3,653.9 1939.1,669.2 1917.9,683.6 1895.8,697.1 1872.9,709.5 1849.4,720.9 1825.3,731.2 1800.8,740.4 1776.0,748.3 1751.0,754.9 1726.0,760.3 1701.0,764.4 1676.1,767.1 1651.6,768.5 1627.5,768.6 1603.9,767.3 1581.0,764.7 1558.8,760.7 1537.5,755.4 1517.1,748.9 1497.9,741.1 1479.8,732.0 1463.0,721.8 1447.5,710.5 1433.4,698.1 1420.7,684.7 1409.7,670.4 1400.2,655.2 1392.4,639.2 1386.2,622.5 1381.8,605.2 1379.1,587.3 1378.1,568.9 1378.9,550.1 1381.4,531.1 1385.7,511.9 1391.6,492.6 1399.3,473.2 1408.6,454.0 1419.5,435.0 1431.9,416.2 1445.9,397.8 1461.2,379.8 1477.9,362.4 1495.9,345.7 1515.0,329.6 1535.3,314.4 1556.5,299.9 1578.5,286.5 1601.4,274.0 1624.9,262.6 1649.0,252.3 1673.5,243.2 1698.3,235.3 1723.3,228.6 1748.4,223.2 1773.4,219.2 1798.2,216.4 1822.7,215.0 1846.8,214.9 1870.4,216.2 1893.4,218.9 1915.5,222.8 1936.8,228.1 1957.2,234.7 1976.4,242.5 1994.5,251.5 2011.4,261.7 2026.9,273.0 2041.0,285.4 2053.6,298.8 2064.6,313.1 2074.1,328.3" fill="none" stroke="#ff9000" stroke-width="5" stroke-linejoin="round"/>
<polygon points="1651.4,340.3 1676.1,342.6 1700.6,346.8 1724.8,352.7 1748.5,360.5 1771.7,370.0 1794.1,381.2 1815.8,394.0 1836.5,408.5 1856.2,424.4 1874.9,441.8 1892.3,460.6 1908.5,480.6 1923.3,501.7 1936.7,524.0 1948.6,547.2 1959.0,571.2 1967.7,596.0 1974.8,621.3 1980.2,647.2 1983.9,673.4 1985.9,699.8 1986.2,726.3 1984.7,752.8 1981.5,779.1 1976.6,805.1 1970.0,830.7 1961.7,855.8 1951.9,880.2 1940.4,903.9 1927.5,926.6 1913.1,948.3 1897.3,968.9 1880.2,988.3 1861.9,1006.4 1842.5,1023.1 1822.0,1038.3 1800.6,1052.0 1778.4,1064.0 1755.5,1074.4 1731.9,1083.0 1707.9,1089.9 1683.4,1095.0 1658.7,1098.2 1633.9,1099.6 1609.1,1099.1 1584.3,1096.8 1559.8,1092.7 1535.6,1086.7 1511.9,1079.0 1488.8,1069.5 1466.3,1058.3 1444.7,1045.4 1423.9,1031.0 1404.2,1015.0 1385.5,997.6 1368.1,978.9 1351.9,958.9 1337.1,937.7 1323.7,915.5 1311.8,892.3 1301.5,868.2 1292.7,843.5 1285.6,818.1 1280.2,792.3 1276.5,766.1 1274.5,739.7 1274.2,713.2 1275.7,686.7 1278.9,660.4 1283.8,634.3 1290.4,608.7 1298.7,583.6 1308.6,559.2 1320.0,535.6 1333.0,512.9 1347.4,491.1 1363.1,470.5 1380.2,451.1 1398.5,433.0 1417.9,416.3 1438.4,401.1 1459.8,387.5 1482.0,375.4 1505.0,365.1 1528.5,356.4 1552.6,349.5 1577.0,344.5 1601.7,341.2 1626.5,339.9" fill="none" stroke="#ff0000" stroke-width="5" stroke-linejoin="round"/>
<polygon points="1803.0,244.6 1814.7,247.4 1826.1,251.5 1837.1,257.0 1847.8,263.8 1857.9,271.9 1867.6,281.3 1876.7,291.9 1885.3,303.6 1893.1,316.5 1900.3,330.4 1906.8,345.2 1912.5,361.0 1917.5,377.6 1921.6,394.9 1925.0,412.9 1927.5,431.5 1929.1,450.6 1929.9,470.0 1929.9,489.7 1929.0,509.7 1927.2,529.7 1924.6,549.8 1921.1,569.7 1916.8,589.5 1911.8,608.9 1905.9,628.0 1899.3,646.6 1892.0,664.6 1884.1,682.0 1875.5,698.7 1866.3,714.5 1856.5,729.4 1846.3,743.4 1835.6,756.3 1824.5,768.1 1813.0,778.8 1801.3,788.3 1789.3,796.5 1777.2,803.4 1764.9,808.9 1752.6,813.1 1740.3,816.0 1728.0,817.4 1715.9,817.5 1703.9,816.1 1692.2,813.4 1680.8,809.3 1669.8,803.8 1659.1,797.0 1649.0,788.8 1639.3,779.5 1630.2,768.9 1621.7,757.1 1613.8,744.3 1606.6,730.4 1600.1,715.5 1594.4,699.8 1589.4,683.2 1585.3,665.8 1581.9,647.8 1579.4,629.2 1577.8,610.2 1577.0,590.7 1577.0,571.0 1578.0,551.1 1579.7,531.0 1582.4,511.0 1585.8,491.1 1590.1,471.3 1595.2,451.8 1601.0,432.8 1607.6,414.1 1614.9,396.1 1622.8,378.7 1631.4,362.1 1640.6,346.2 1650.4,331.3 1660.6,317.4 1671.3,304.4 1682.4,292.6 1693.9,281.9 1705.6,272.5 1717.6,264.3 1729.8,257.4 1742.0,251.8 1754.3,247.6 1766.7,244.8 1778.9,243.3 1791.0,243.3" fill="none" stroke="#0000ff" stroke-width="5" stroke-linejoin="round"/>
<polygon points="2159.8,354.5 2165.5,371.4 2169.3,389.0 2171.2,407.1 2171.2,425.7 2169.2,444.8 2165.4,464.1 2159.6,483.7 2151.9,503.5 2142.4,523.2 2131.2,542.9 2118.1,562.4 2103.5,581.7 2087.2,600.6 2069.4,619.1 2050.1,637.0 2029.5,654.4 2007.7,671.0 1984.8,686.8 1960.8,701.8 1935.9,715.8 1910.2,728.9 1883.9,740.9 1857.0,751.7 1829.8,761.4 1802.3,769.8 1774.6,777.0 1746.9,782.9 1719.4,787.5 1692.2,790.7 1665.3,792.5 1639.0,792.9 1613.4,792.0 1588.5,789.7 1564.6,786.1 1541.6,781.1 1519.9,774.7 1499.3,767.1 1480.1,758.3 1462.3,748.2 1446.1,737.0 1431.5,724.6 1418.5,711.2 1407.3,696.9 1397.8,681.6 1390.2,665.5 1384.5,648.6 1380.7,631.0 1378.8,612.9 1378.8,594.3 1380.8,575.2 1384.6,555.9 1390.4,536.3 1398.1,516.5 1407.6,496.8 1418.8,477.1 1431.9,457.6 1446.5,438.3 1462.8,419.4 1480.6,400.9 1499.9,383.0 1520.5,365.6 1542.3,349.0 1565.2,333.2 1589.2,318.2 1614.1,304.2 1639.8,291.1 1666.1,279.1 1693.0,268.3 1720.2,258.6 1747.7,250.2 1775.4,243.0 1803.1,237.1 1830.6,232.5 1857.8,229.3 1884.7,227.5 1911.0,227.1 1936.6,228.0 1961.5,230.3 1985.4,233.9 2008.4,238.9 2030.1,245.3 2050.7,252.9 2069.9,261.7 2087.7,271.8 2103.9,283.0 2118.5,295.4 2131.5,308.8 2142.7,323.1 2152.2,338.4" fill="none" stroke="#ff9000" stroke-width="5" stroke-linejoin="round"/>
<polyline points="1468.0,2100.7 1497.5,2100.7 1509.7,2090.9 1522.0,2076.1 1531.8,2061.4 1536.7,2044.3 1541.6,2027.1 1549.0,2007.5 1553.9,1985.4 1558.8,1958.4 1566.2,1921.7 1571.0,1887.3 1573.5,1853.0 1579.6,1823.6 1583.3,1799.0 1585.7,1750.0 1594.7,1699.9 1595.7,1662.0 1600.1,1655.5 1601.1,1629.5 1605.5,1625.2 1606.6,1594.8 1610.9,1590.5 1612.0,1564.5 1617.4,1560.2 1617.4,1542.9 1621.7,1529.9 1633.6,1514.7 1646.6,1514.7 1657.5,1508.2 1664.0,1499.6 1670.4,1486.6 1676.9,1473.6 1684.5,1462.7 1689.9,1463.8 1695.4,1471.4 1698.6,1484.4 1704.0,1503.9 1707.3,1534.2 1712.7,1538.5 1713.8,1568.9 1718.1,1575.3 1719.2,1605.7 1722.4,1612.2 1722.4,1649.0 1731.0,1680.0 1733.1,1723.3 1737.5,1747.1 1741.8,1775.3 1746.1,1801.3 1750.4,1827.3 1756.9,1851.1 1763.4,1874.9 1769.9,1905.2 1778.6,1929.1 1787.3,1950.7 1795.9,1972.4 1804.6,1994.0 1813.3,2011.3 1824.1,2022.2 1834.9,2028.7 1847.9,2035.2 1860.9,2043.8 1873.9,2056.8 1884.7,2067.7 1895.5,2080.7 1908.5,2093.6 1915.0,2100.0" fill="none" stroke="#000000" stroke-width="5.5" stroke-linejoin="round" stroke-linecap="round"/>
<polyline points="1244.9,2079.8 1259.6,2074.9 1276.8,2070.0 1294.0,2066.3 1313.6,2063.9 1335.6,2063.9 1347.9,2059.0 1362.6,2056.5 1382.2,2049.2 1401.8,2039.4 1421.5,2029.6 1441.1,2017.3 1460.7,2002.6 1475.4,1990.3 1495.0,1970.7 1514.6,1948.6 1531.8,1924.1 1549.0,1902.0 1563.7,1880.0 1578.4,1857.9 1593.1,1835.8 1607.8,1813.8 1622.5,1791.7 1637.3,1772.1 1646.5,1758.0 1659.5,1745.0 1674.7,1729.8 1689.8,1721.1 1705.0,1725.5 1720.1,1734.1 1731.0,1747.1 1744.0,1762.3 1750.4,1773.1 1756.9,1786.1 1765.6,1805.6 1772.1,1820.8 1778.6,1838.1 1785.1,1855.4 1791.6,1870.6 1795.9,1885.7 1802.4,1900.9 1808.9,1920.4 1815.4,1939.9 1821.9,1959.4 1828.4,1976.7 1834.9,1991.9 1841.4,2009.2 1847.9,2024.3 1854.4,2039.5 1863.1,2052.5 1873.9,2065.5 1884.7,2078.5 1895.5,2087.1 1908.5,2093.6 1921.5,2098.0 1930.0,2100.0" fill="none" stroke="#ff0000" stroke-width="5.5" stroke-linejoin="round" stroke-linecap="round"/>
<polyline points="1514.6,2101.9 1529.4,2098.2 1544.1,2083.5 1558.8,2066.3 1568.6,2054.1 1578.4,2047.9 1588.2,2056.5 1600.5,2066.3 1610.3,2066.3 1620.1,2051.6 1625.0,2027.1 1632.4,2000.1 1637.3,1970.7 1642.2,1936.4 1648.7,1896.6 1653.0,1874.9 1659.5,1835.9 1663.8,1818.6 1670.3,1807.8 1676.8,1801.3 1689.8,1814.3 1702.8,1820.8 1707.1,1814.3 1711.5,1796.9 1715.8,1775.3 1718.0,1751.5 1722.3,1729.8 1722.3,1706.0 1726.8,1680.0 1726.8,1651.2 1733.3,1646.8 1733.3,1601.3 1737.6,1594.8 1737.6,1547.2 1743.0,1542.9 1743.0,1484.4 1748.4,1477.9 1748.4,1443.3 1753.8,1436.8 1753.8,1406.4 1758.2,1399.9 1758.2,1374.0 1763.6,1369.6 1763.6,1348.0 1769.0,1337.1 1778.7,1336.1 1783.1,1350.1 1785.2,1352.3 1786.3,1374.0 1790.6,1378.3 1791.7,1402.1 1796.1,1406.4 1797.1,1436.8 1802.6,1443.3 1803.6,1486.6 1804.7,1523.4 1810.1,1529.9 1811.2,1564.5 1816.6,1568.9 1817.7,1601.3 1822.0,1605.7 1823.1,1633.8 1827.5,1638.2 1828.5,1672.8 1832.7,1680.0 1832.7,1706.0 1837.1,1734.1 1843.6,1747.1 1843.6,1764.5 1847.9,1771.0 1849.0,1799.1 1854.4,1809.9 1854.4,1831.6 1859.8,1838.1 1860.9,1859.8 1865.2,1866.2 1865.2,1887.9 1869.6,1894.4 1870.6,1920.4 1875.0,1926.9 1876.0,1948.5 1880.4,1955.0 1881.5,1976.7 1885.8,1983.2 1886.9,2000.5 1892.3,2007.0 1893.4,2024.3 1899.9,2030.8 1902.0,2046.0 1908.5,2056.8 1915.0,2072.0 1923.7,2082.8 1932.4,2091.5 1947.5,2093.0" fill="none" stroke="#0000ff" stroke-width="5.5" stroke-linejoin="round" stroke-linecap="round"/>
<polyline points="1244.9,2081.0 1264.5,2074.9 1289.0,2073.7 1308.7,2076.1 1325.8,2081.0 1345.4,2088.4 1367.5,2090.9 1392.0,2090.9 1411.7,2081.0 1431.3,2068.8 1450.9,2056.5 1468.0,2047.9 1487.7,2043.0 1507.3,2047.9 1529.4,2051.6 1546.5,2054.1 1561.2,2046.7 1578.4,2029.6 1588.2,2009.9 1600.5,1990.3 1612.7,1965.8 1622.5,1936.4 1632.4,1909.4 1642.2,1887.3 1648.7,1868.4 1661.7,1844.6 1674.7,1822.9 1687.6,1807.8 1705.0,1794.8 1722.3,1779.6 1737.5,1762.3 1750.4,1742.8 1763.4,1719.0 1778.6,1697.3 1790.0,1680.0 1802.6,1671.7 1811.2,1672.8 1822.0,1683.0 1830.6,1701.7 1837.1,1723.3 1845.7,1749.3 1854.4,1766.6 1860.9,1788.3 1867.4,1809.9 1871.7,1831.6 1878.2,1857.6 1884.7,1885.7 1891.2,1909.6 1899.9,1939.9 1908.5,1972.4 1915.0,1996.2 1923.7,2015.7 1932.4,2030.8 1943.2,2048.2 1954.0,2063.3 1964.8,2074.2 1977.8,2082.8 1990.8,2089.3 2003.8,2093.6 2054.0,2093.6" fill="none" stroke="#ff9000" stroke-width="5.5" stroke-linejoin="round" stroke-linecap="round"/>
<polyline points="1563.7,2101.9 1578.4,2095.8 1593.1,2081.0 1607.8,2063.9 1617.6,2044.3 1625.0,2019.7 1632.4,1995.2 1637.3,1970.7 1642.2,1943.7 1648.7,1933.4 1657.3,1898.7 1666.0,1870.6 1672.5,1835.9 1679.0,1820.8 1685.5,1812.1 1692.0,1809.9 1698.5,1820.8 1705.0,1838.1 1711.5,1868.4 1715.8,1900.9 1720.1,1929.1 1726.6,1957.2 1731.0,1983.2 1735.3,1998.3 1741.8,2004.8 1748.3,2000.5 1752.6,1987.5 1756.9,1972.4 1761.3,1946.4 1765.6,1918.2 1767.8,1874.9 1772.1,1848.9 1776.4,1801.3 1778.6,1766.6 1780.8,1734.1 1785.1,1700.0 1785.2,1666.3 1789.6,1659.8 1789.6,1590.5 1795.0,1586.2 1795.0,1516.9 1799.3,1512.6 1800.4,1447.6 1804.7,1391.3 1806.9,1386.9 1810.1,1337.1 1815.5,1332.8 1815.5,1300.3 1822.0,1293.8 1822.0,1278.7 1829.6,1272.2 1837.2,1278.7 1837.2,1291.7 1842.6,1298.2 1842.6,1319.8 1848.1,1326.3 1848.1,1356.6 1853.5,1363.1 1853.5,1391.3 1858.9,1397.8 1858.9,1432.4 1863.2,1438.9 1864.3,1475.7 1868.6,1484.4 1869.7,1525.5 1874.0,1534.2 1875.1,1577.5 1880.5,1584.0 1880.5,1633.8 1884.7,1680.0 1884.7,1699.5 1891.2,1706.0 1891.2,1753.6 1895.5,1760.1 1896.6,1809.9 1902.0,1818.6 1902.0,1870.6 1907.5,1877.1 1908.5,1920.4 1912.9,1926.9 1914.0,1961.5 1918.3,1968.0 1919.4,2004.8 1923.7,2013.5 1928.0,2035.2 1932.4,2052.5 1938.9,2069.8 1945.4,2082.8 1954.0,2091.5 1964.8,2093.6" fill="none" stroke="#00ff00" stroke-width="5.5" stroke-linejoin="round" stroke-linecap="round"/>
<rect x="1545.0" y="2180" width="4.0" height="19" fill="#000000"/><rect x="1579.0" y="2180" width="4.5" height="19" fill="#000000"/><rect x="1594.0" y="2180" width="50.8" height="19" fill="#000000"/><rect x="1652.0" y="2180" width="5.0" height="19" fill="#000000"/><rect x="1668.2" y="2180" width="48.0" height="19" fill="#000000"/><rect x="1723.4" y="2180" width="5.0" height="19" fill="#000000"/><rect x="1732.0" y="2180" width="5.0" height="19" fill="#000000"/><rect x="1739.5" y="2180" width="5.0" height="19" fill="#000000"/><rect x="1749.3" y="2180" width="8.5" height="19" fill="#000000"/><rect x="1768.4" y="2180" width="8.6" height="19" fill="#000000"/><rect x="1791.9" y="2180" width="5.3" height="19" fill="#000000"/><rect x="1841.6" y="2180" width="5.0" height="19" fill="#000000"/><rect x="1855.5" y="2180" width="5.0" height="19" fill="#000000"/>
<rect x="1275.9" y="2156" width="5.0" height="26" fill="#ff0000"/><rect x="1312.6" y="2156" width="5.0" height="26" fill="#ff0000"/><rect x="1392.1" y="2156" width="5.0" height="26" fill="#ff0000"/><rect x="1407.4" y="2156" width="5.0" height="26" fill="#ff0000"/><rect x="1444.7" y="2156" width="5.0" height="26" fill="#ff0000"/><rect x="1476.7" y="2156" width="5.0" height="26" fill="#ff0000"/><rect x="1518.5" y="2156" width="5.0" height="26" fill="#ff0000"/><rect x="1529.0" y="2156" width="5.0" height="26" fill="#ff0000"/><rect x="1540.6" y="2156" width="15.0" height="26" fill="#ff0000"/><rect x="1565.9" y="2156" width="5.0" height="26" fill="#ff0000"/><rect x="1579.0" y="2156" width="12.8" height="26" fill="#ff0000"/><rect x="1603.9" y="2156" width="5.0" height="26" fill="#ff0000"/><rect x="1618.8" y="2156" width="5.0" height="26" fill="#ff0000"/><rect x="1631.6" y="2156" width="5.0" height="26" fill="#ff0000"/><rect x="1645.5" y="2156" width="5.0" height="26" fill="#ff0000"/><rect x="1656.1" y="2156" width="5.0" height="26" fill="#ff0000"/><rect x="1677.8" y="2156" width="35.2" height="26" fill="#ff0000"/><rect x="1730.0" y="2156" width="19.3" height="26" fill="#ff0000"/><rect x="1756.3" y="2156" width="5.0" height="26" fill="#ff0000"/><rect x="1767.4" y="2156" width="25.6" height="26" fill="#ff0000"/><rect x="1805.4" y="2156" width="5.0" height="26" fill="#ff0000"/>
<rect x="1576.5" y="2141" width="5.0" height="20" fill="#0000ff"/><rect x="1647.6" y="2141" width="5.0" height="20" fill="#0000ff"/><rect x="1666.1" y="2141" width="14.9" height="20" fill="#0000ff"/><rect x="1703.0" y="2141" width="5.0" height="20" fill="#0000ff"/><rect x="1730.0" y="2141" width="20.3" height="20" fill="#0000ff"/><rect x="1762.0" y="2141" width="40.6" height="20" fill="#0000ff"/><rect x="1815.4" y="2141" width="8.5" height="20" fill="#0000ff"/><rect x="1829.9" y="2141" width="5.0" height="20" fill="#0000ff"/><rect x="1844.8" y="2141" width="5.0" height="20" fill="#0000ff"/><rect x="1861.9" y="2141" width="5.0" height="20" fill="#0000ff"/><rect x="1876.8" y="2141" width="5.0" height="20" fill="#0000ff"/>
<rect x="1286.5" y="2120" width="5.0" height="26" fill="#ff9000"/><rect x="1481.6" y="2120" width="5.0" height="26" fill="#ff9000"/><rect x="1618.8" y="2120" width="5.0" height="26" fill="#ff9000"/><rect x="1633.7" y="2120" width="5.0" height="26" fill="#ff9000"/><rect x="1649.7" y="2120" width="5.0" height="26" fill="#ff9000"/><rect x="1665.7" y="2120" width="5.0" height="26" fill="#ff9000"/><rect x="1677.5" y="2120" width="5.0" height="26" fill="#ff9000"/><rect x="1691.3" y="2120" width="5.0" height="26" fill="#ff9000"/><rect x="1706.6" y="2120" width="11.7" height="26" fill="#ff9000"/><rect x="1729.7" y="2120" width="5.0" height="26" fill="#ff9000"/><rect x="1762.7" y="2120" width="5.0" height="26" fill="#ff9000"/><rect x="1779.8" y="2120" width="5.0" height="26" fill="#ff9000"/><rect x="1796.2" y="2120" width="17.0" height="26" fill="#ff9000"/><rect x="1821.4" y="2120" width="5.0" height="26" fill="#ff9000"/><rect x="1837.4" y="2120" width="5.0" height="26" fill="#ff9000"/><rect x="1851.2" y="2120" width="5.0" height="26" fill="#ff9000"/><rect x="1903.5" y="2120" width="5.0" height="26" fill="#ff9000"/>
<rect x="1640.1" y="2104" width="5.0" height="20" fill="#00ff00"/><rect x="1681.7" y="2104" width="5.0" height="20" fill="#00ff00"/><rect x="1695.6" y="2104" width="5.0" height="20" fill="#00ff00"/><rect x="1777.7" y="2104" width="5.0" height="20" fill="#00ff00"/><rect x="1796.9" y="2104" width="5.0" height="20" fill="#00ff00"/><rect x="1810.0" y="2104" width="13.9" height="20" fill="#00ff00"/><rect x="1837.4" y="2104" width="5.0" height="20" fill="#00ff00"/><rect x="1853.4" y="2104" width="5.0" height="20" fill="#00ff00"/><rect x="1867.2" y="2104" width="5.0" height="20" fill="#00ff00"/><rect x="1876.8" y="2104" width="5.0" height="20" fill="#00ff00"/><rect x="1888.5" y="2104" width="5.0" height="20" fill="#00ff00"/>
<polygon points="584.5,1582.2 599.3,1597.0 584.5,1611.8 569.7,1597.0" fill="#000000" stroke="#000000" stroke-width="3.5" stroke-linejoin="round"/>
<polygon points="695.9,1566.8 710.7,1581.6 695.9,1596.4 681.1,1581.6" fill="#000000" stroke="#000000" stroke-width="3.5" stroke-linejoin="round"/>
<polygon points="716.6,1645.9 731.4,1660.7 716.6,1675.5 701.8,1660.7" fill="#000000" stroke="#000000" stroke-width="3.5" stroke-linejoin="round"/>
<polygon points="747.2,1627.7 762.0,1642.5 747.2,1657.3 732.4,1642.5" fill="#000000" stroke="#000000" stroke-width="3.5" stroke-linejoin="round"/>
<polygon points="801.7,1673.6 816.5,1688.4 801.7,1703.2 786.9,1688.4" fill="#000000" stroke="#000000" stroke-width="3.5" stroke-linejoin="round"/>
<polygon points="687.8,1696.6 702.6,1711.4 687.8,1726.2 673.0,1711.4" fill="#000000" stroke="#000000" stroke-width="3.5" stroke-linejoin="round"/>
<polygon points="678.3,1734.9 693.1,1749.7 678.3,1764.5 663.5,1749.7" fill="#000000" stroke="#000000" stroke-width="3.5" stroke-linejoin="round"/>
<polygon points="707.0,1715.7 721.8,1730.5 707.0,1745.3 692.2,1730.5" fill="#000000" stroke="#000000" stroke-width="3.5" stroke-linejoin="round"/>
<polygon points="747.2,1715.7 762.0,1730.5 747.2,1745.3 732.4,1730.5" fill="#000000" stroke="#000000" stroke-width="3.5" stroke-linejoin="round"/>
<polygon points="751.0,1696.6 765.8,1711.4 751.0,1726.2 736.2,1711.4" fill="#000000" stroke="#000000" stroke-width="3.5" stroke-linejoin="round"/>
<polygon points="745.3,1754.0 760.1,1768.8 745.3,1783.6 730.5,1768.8" fill="#000000" stroke="#000000" stroke-width="3.5" stroke-linejoin="round"/>
<polygon points="712.7,1763.6 727.5,1778.4 712.7,1793.2 697.9,1778.4" fill="#000000" stroke="#000000" stroke-width="3.5" stroke-linejoin="round"/>
<polygon points="697.4,1782.7 712.2,1797.5 697.4,1812.3 682.6,1797.5" fill="#000000" stroke="#000000" stroke-width="3.5" stroke-linejoin="round"/>
<polygon points="716.6,1788.5 731.4,1803.3 716.6,1818.1 701.8,1803.3" fill="#000000" stroke="#000000" stroke-width="3.5" stroke-linejoin="round"/>
<polygon points="735.7,1782.7 750.5,1797.5 735.7,1812.3 720.9,1797.5" fill="#000000" stroke="#000000" stroke-width="3.5" stroke-linejoin="round"/>
<polygon points="747.2,1792.3 762.0,1807.1 747.2,1821.9 732.4,1807.1" fill="#000000" stroke="#000000" stroke-width="3.5" stroke-linejoin="round"/>
<polygon points="678.3,1801.9 693.1,1816.7 678.3,1831.5 663.5,1816.7" fill="#000000" stroke="#000000" stroke-width="3.5" stroke-linejoin="round"/>
<polygon points="697.4,1811.4 712.2,1826.2 697.4,1841.0 682.6,1826.2" fill="#000000" stroke="#000000" stroke-width="3.5" stroke-linejoin="round"/>
<polygon points="668.7,1821.0 683.5,1835.8 668.7,1850.6 653.9,1835.8" fill="#000000" stroke="#000000" stroke-width="3.5" stroke-linejoin="round"/>
<polygon points="716.6,1801.9 731.4,1816.7 716.6,1831.5 701.8,1816.7" fill="#000000" stroke="#000000" stroke-width="3.5" stroke-linejoin="round"/>
<polygon points="691.7,1849.7 706.5,1864.5 691.7,1879.3 676.9,1864.5" fill="#000000" stroke="#000000" stroke-width="3.5" stroke-linejoin="round"/>
<polygon points="877.3,1740.6 892.1,1755.4 877.3,1770.2 862.5,1755.4" fill="#000000" stroke="#000000" stroke-width="3.5" stroke-linejoin="round"/>
<polygon points="798.9,1826.7 813.7,1841.5 798.9,1856.3 784.1,1841.5" fill="#000000" stroke="#000000" stroke-width="3.5" stroke-linejoin="round"/>
<polygon points="837.1,1842.0 851.9,1856.8 837.1,1871.6 822.3,1856.8" fill="#000000" stroke="#000000" stroke-width="3.5" stroke-linejoin="round"/>
<polygon points="860.1,1828.6 874.9,1843.4 860.1,1858.2 845.3,1843.4" fill="#000000" stroke="#000000" stroke-width="3.5" stroke-linejoin="round"/>
<polygon points="774.9,1878.4 789.7,1893.2 774.9,1908.0 760.1,1893.2" fill="#000000" stroke="#000000" stroke-width="3.5" stroke-linejoin="round"/>
<polygon points="728.0,1735.2 742.8,1750.0 728.0,1764.8 713.2,1750.0" fill="#000000" stroke="#000000" stroke-width="3.5" stroke-linejoin="round"/>
<polygon points="700.0,1745.2 714.8,1760.0 700.0,1774.8 685.2,1760.0" fill="#000000" stroke="#000000" stroke-width="3.5" stroke-linejoin="round"/>
<polygon points="690.0,1835.2 704.8,1850.0 690.0,1864.8 675.2,1850.0" fill="#000000" stroke="#000000" stroke-width="3.5" stroke-linejoin="round"/>
<polygon points="727.0,1770.2 741.8,1785.0 727.0,1799.8 712.2,1785.0" fill="#000000" stroke="#000000" stroke-width="3.5" stroke-linejoin="round"/>
<polygon points="760.0,1775.2 774.8,1790.0 760.0,1804.8 745.2,1790.0" fill="#000000" stroke="#000000" stroke-width="3.5" stroke-linejoin="round"/>
<polygon points="815.0,1830.2 829.8,1845.0 815.0,1859.8 800.2,1845.0" fill="#000000" stroke="#000000" stroke-width="3.5" stroke-linejoin="round"/>
<polygon points="665.0,1745.2 679.8,1760.0 665.0,1774.8 650.2,1760.0" fill="#000000" stroke="#000000" stroke-width="3.5" stroke-linejoin="round"/>
<polygon points="672.0,1710.2 686.8,1725.0 672.0,1739.8 657.2,1725.0" fill="#000000" stroke="#000000" stroke-width="3.5" stroke-linejoin="round"/>
<polygon points="760.0,1737.2 774.8,1752.0 760.0,1766.8 745.2,1752.0" fill="#000000" stroke="#000000" stroke-width="3.5" stroke-linejoin="round"/>
<polygon points="617.0,1817.2 631.8,1832.0 617.0,1846.8 602.2,1832.0" fill="#000000" stroke="#000000" stroke-width="3.5" stroke-linejoin="round"/>
<polygon points="770.0,1675.2 784.8,1690.0 770.0,1704.8 755.2,1690.0" fill="#000000" stroke="#000000" stroke-width="3.5" stroke-linejoin="round"/>
<polygon points="810.0,1705.2 824.8,1720.0 810.0,1734.8 795.2,1720.0" fill="#000000" stroke="#000000" stroke-width="3.5" stroke-linejoin="round"/>
<polygon points="680.0,1690.2 694.8,1705.0 680.0,1719.8 665.2,1705.0" fill="#000000" stroke="#000000" stroke-width="3.5" stroke-linejoin="round"/>
<polygon points="700.0,1690.2 714.8,1705.0 700.0,1719.8 685.2,1705.0" fill="#000000" stroke="#000000" stroke-width="3.5" stroke-linejoin="round"/>
<polygon points="720.0,1697.2 734.8,1712.0 720.0,1726.8 705.2,1712.0" fill="#000000" stroke="#000000" stroke-width="3.5" stroke-linejoin="round"/>
<polygon points="740.0,1700.2 754.8,1715.0 740.0,1729.8 725.2,1715.0" fill="#000000" stroke="#000000" stroke-width="3.5" stroke-linejoin="round"/>
<polygon points="757.0,1710.2 771.8,1725.0 757.0,1739.8 742.2,1725.0" fill="#000000" stroke="#000000" stroke-width="3.5" stroke-linejoin="round"/>
<polygon points="690.0,1710.2 704.8,1725.0 690.0,1739.8 675.2,1725.0" fill="#000000" stroke="#000000" stroke-width="3.5" stroke-linejoin="round"/>
<polygon points="715.0,1730.2 729.8,1745.0 715.0,1759.8 700.2,1745.0" fill="#000000" stroke="#000000" stroke-width="3.5" stroke-linejoin="round"/>
<polygon points="735.0,1745.2 749.8,1760.0 735.0,1774.8 720.2,1760.0" fill="#000000" stroke="#000000" stroke-width="3.5" stroke-linejoin="round"/>
<polygon points="750.0,1770.2 764.8,1785.0 750.0,1799.8 735.2,1785.0" fill="#000000" stroke="#000000" stroke-width="3.5" stroke-linejoin="round"/>
<polygon points="725.0,1755.2 739.8,1770.0 725.0,1784.8 710.2,1770.0" fill="#000000" stroke="#000000" stroke-width="3.5" stroke-linejoin="round"/>
<polygon points="705.0,1775.2 719.8,1790.0 705.0,1804.8 690.2,1790.0" fill="#000000" stroke="#000000" stroke-width="3.5" stroke-linejoin="round"/>
<polygon points="690.0,1765.2 704.8,1780.0 690.0,1794.8 675.2,1780.0" fill="#000000" stroke="#000000" stroke-width="3.5" stroke-linejoin="round"/>
<polygon points="682.0,1785.2 696.8,1800.0 682.0,1814.8 667.2,1800.0" fill="#000000" stroke="#000000" stroke-width="3.5" stroke-linejoin="round"/>
<polygon points="705.0,1797.2 719.8,1812.0 705.0,1826.8 690.2,1812.0" fill="#000000" stroke="#000000" stroke-width="3.5" stroke-linejoin="round"/>
<polygon points="725.0,1805.2 739.8,1820.0 725.0,1834.8 710.2,1820.0" fill="#000000" stroke="#000000" stroke-width="3.5" stroke-linejoin="round"/>
<polygon points="690.0,1820.2 704.8,1835.0 690.0,1849.8 675.2,1835.0" fill="#000000" stroke="#000000" stroke-width="3.5" stroke-linejoin="round"/>
<polygon points="710.0,1825.2 724.8,1840.0 710.0,1854.8 695.2,1840.0" fill="#000000" stroke="#000000" stroke-width="3.5" stroke-linejoin="round"/>
<polygon points="680.0,1840.2 694.8,1855.0 680.0,1869.8 665.2,1855.0" fill="#000000" stroke="#000000" stroke-width="3.5" stroke-linejoin="round"/>
<polygon points="700.0,1855.2 714.8,1870.0 700.0,1884.8 685.2,1870.0" fill="#000000" stroke="#000000" stroke-width="3.5" stroke-linejoin="round"/>
<polygon points="760.0,1755.2 774.8,1770.0 760.0,1784.8 745.2,1770.0" fill="#000000" stroke="#000000" stroke-width="3.5" stroke-linejoin="round"/>
<polygon points="740.0,1725.2 754.8,1740.0 740.0,1754.8 725.2,1740.0" fill="#000000" stroke="#000000" stroke-width="3.5" stroke-linejoin="round"/>
<polygon points="505.9,1630.2 520.7,1645.0 505.9,1659.8 491.1,1645.0" fill="#ff0000" stroke="#ff0000" stroke-width="3.5" stroke-linejoin="round"/>
<polygon points="558.6,1640.8 573.4,1655.6 558.6,1670.4 543.8,1655.6" fill="#ff0000" stroke="#ff0000" stroke-width="3.5" stroke-linejoin="round"/>
<polygon points="642.8,1619.5 657.6,1634.3 642.8,1649.1 628.0,1634.3" fill="#ff0000" stroke="#ff0000" stroke-width="3.5" stroke-linejoin="round"/>
<polygon points="584.4,1666.0 599.2,1680.8 584.4,1695.6 569.6,1680.8" fill="#ff0000" stroke="#ff0000" stroke-width="3.5" stroke-linejoin="round"/>
<polygon points="558.6,1682.9 573.4,1697.7 558.6,1712.5 543.8,1697.7" fill="#ff0000" stroke="#ff0000" stroke-width="3.5" stroke-linejoin="round"/>
<polygon points="594.9,1688.6 609.7,1703.4 594.9,1718.2 580.1,1703.4" fill="#ff0000" stroke="#ff0000" stroke-width="3.5" stroke-linejoin="round"/>
<polygon points="642.8,1693.8 657.6,1708.6 642.8,1723.4 628.0,1708.6" fill="#ff0000" stroke="#ff0000" stroke-width="3.5" stroke-linejoin="round"/>
<polygon points="668.6,1688.0 683.4,1702.8 668.6,1717.6 653.8,1702.8" fill="#ff0000" stroke="#ff0000" stroke-width="3.5" stroke-linejoin="round"/>
<polygon points="585.4,1713.9 600.2,1728.7 585.4,1743.5 570.6,1728.7" fill="#ff0000" stroke="#ff0000" stroke-width="3.5" stroke-linejoin="round"/>
<polygon points="495.4,1734.9 510.2,1749.7 495.4,1764.5 480.6,1749.7" fill="#ff0000" stroke="#ff0000" stroke-width="3.5" stroke-linejoin="round"/>
<polygon points="507.8,1743.6 522.6,1758.4 507.8,1773.2 493.0,1758.4" fill="#ff0000" stroke="#ff0000" stroke-width="3.5" stroke-linejoin="round"/>
<polygon points="526.0,1730.2 540.8,1745.0 526.0,1759.8 511.2,1745.0" fill="#ff0000" stroke="#ff0000" stroke-width="3.5" stroke-linejoin="round"/>
<polygon points="542.3,1737.8 557.1,1752.6 542.3,1767.4 527.5,1752.6" fill="#ff0000" stroke="#ff0000" stroke-width="3.5" stroke-linejoin="round"/>
<polygon points="552.8,1729.2 567.6,1744.0 552.8,1758.8 538.0,1744.0" fill="#ff0000" stroke="#ff0000" stroke-width="3.5" stroke-linejoin="round"/>
<polygon points="579.6,1746.4 594.4,1761.2 579.6,1776.0 564.8,1761.2" fill="#ff0000" stroke="#ff0000" stroke-width="3.5" stroke-linejoin="round"/>
<polygon points="606.4,1740.7 621.2,1755.5 606.4,1770.3 591.6,1755.5" fill="#ff0000" stroke="#ff0000" stroke-width="3.5" stroke-linejoin="round"/>
<polygon points="405.4,1767.1 420.2,1781.9 405.4,1796.7 390.6,1781.9" fill="#ff0000" stroke="#ff0000" stroke-width="3.5" stroke-linejoin="round"/>
<polygon points="489.6,1778.0 504.4,1792.8 489.6,1807.6 474.8,1792.8" fill="#ff0000" stroke="#ff0000" stroke-width="3.5" stroke-linejoin="round"/>
<polygon points="463.8,1799.1 478.6,1813.9 463.8,1828.7 449.0,1813.9" fill="#ff0000" stroke="#ff0000" stroke-width="3.5" stroke-linejoin="round"/>
<polygon points="548.0,1794.3 562.8,1809.1 548.0,1823.9 533.2,1809.1" fill="#ff0000" stroke="#ff0000" stroke-width="3.5" stroke-linejoin="round"/>
<polygon points="573.9,1787.6 588.7,1802.4 573.9,1817.2 559.1,1802.4" fill="#ff0000" stroke="#ff0000" stroke-width="3.5" stroke-linejoin="round"/>
<polygon points="599.7,1788.5 614.5,1803.3 599.7,1818.1 584.9,1803.3" fill="#ff0000" stroke="#ff0000" stroke-width="3.5" stroke-linejoin="round"/>
<polygon points="622.7,1799.1 637.5,1813.9 622.7,1828.7 607.9,1813.9" fill="#ff0000" stroke="#ff0000" stroke-width="3.5" stroke-linejoin="round"/>
<polygon points="594.9,1812.5 609.7,1827.3 594.9,1842.1 580.1,1827.3" fill="#ff0000" stroke="#ff0000" stroke-width="3.5" stroke-linejoin="round"/>
<polygon points="658.1,1820.1 672.9,1834.9 658.1,1849.7 643.3,1834.9" fill="#ff0000" stroke="#ff0000" stroke-width="3.5" stroke-linejoin="round"/>
<polygon points="478.2,1842.1 493.0,1856.9 478.2,1871.7 463.4,1856.9" fill="#ff0000" stroke="#ff0000" stroke-width="3.5" stroke-linejoin="round"/>
<polygon points="501.1,1836.0 515.9,1850.8 501.1,1865.6 486.3,1850.8" fill="#ff0000" stroke="#ff0000" stroke-width="3.5" stroke-linejoin="round"/>
<polygon points="616.9,1842.1 631.7,1856.9 616.9,1871.7 602.1,1856.9" fill="#ff0000" stroke="#ff0000" stroke-width="3.5" stroke-linejoin="round"/>
<polygon points="632.3,1851.7 647.1,1866.5 632.3,1881.3 617.5,1866.5" fill="#ff0000" stroke="#ff0000" stroke-width="3.5" stroke-linejoin="round"/>
<polygon points="585.4,1870.8 600.2,1885.6 585.4,1900.4 570.6,1885.6" fill="#ff0000" stroke="#ff0000" stroke-width="3.5" stroke-linejoin="round"/>
<polygon points="605.5,1877.6 620.3,1892.4 605.5,1907.2 590.7,1892.4" fill="#ff0000" stroke="#ff0000" stroke-width="3.5" stroke-linejoin="round"/>
<polygon points="516.4,1888.1 531.2,1902.9 516.4,1917.7 501.6,1902.9" fill="#ff0000" stroke="#ff0000" stroke-width="3.5" stroke-linejoin="round"/>
<polygon points="548.0,1883.3 562.8,1898.1 548.0,1912.9 533.2,1898.1" fill="#ff0000" stroke="#ff0000" stroke-width="3.5" stroke-linejoin="round"/>
<polygon points="621.7,1904.4 636.5,1919.2 621.7,1934.0 606.9,1919.2" fill="#ff0000" stroke="#ff0000" stroke-width="3.5" stroke-linejoin="round"/>
<polygon points="585.4,1945.5 600.2,1960.3 585.4,1975.1 570.6,1960.3" fill="#ff0000" stroke="#ff0000" stroke-width="3.5" stroke-linejoin="round"/>
<polygon points="612.2,1944.6 627.0,1959.4 612.2,1974.2 597.4,1959.4" fill="#ff0000" stroke="#ff0000" stroke-width="3.5" stroke-linejoin="round"/>
<polygon points="626.5,1970.4 641.3,1985.2 626.5,2000.0 611.7,1985.2" fill="#ff0000" stroke="#ff0000" stroke-width="3.5" stroke-linejoin="round"/>
<polygon points="749.1,1618.1 763.9,1632.9 749.1,1647.7 734.3,1632.9" fill="#ff0000" stroke="#ff0000" stroke-width="3.5" stroke-linejoin="round"/>
<polygon points="650.0,2040.2 664.8,2055.0 650.0,2069.8 635.2,2055.0" fill="#ff0000" stroke="#ff0000" stroke-width="3.5" stroke-linejoin="round"/>
<polygon points="664.0,2029.2 678.8,2044.0 664.0,2058.8 649.2,2044.0" fill="#ff0000" stroke="#ff0000" stroke-width="3.5" stroke-linejoin="round"/>
<polygon points="678.0,2019.2 692.8,2034.0 678.0,2048.8 663.2,2034.0" fill="#ff0000" stroke="#ff0000" stroke-width="3.5" stroke-linejoin="round"/>
<polygon points="815.6,2109.6 830.4,2124.4 815.6,2139.2 800.8,2124.4" fill="#ff0000" stroke="#ff0000" stroke-width="3.5" stroke-linejoin="round"/>
<polygon points="784.6,2145.7 799.4,2160.5 784.6,2175.3 769.8,2160.5" fill="#ff0000" stroke="#ff0000" stroke-width="3.5" stroke-linejoin="round"/>
<polygon points="653.3,1656.5 668.1,1671.3 653.3,1686.1 638.5,1671.3" fill="#0000ff" stroke="#0000ff" stroke-width="3.5" stroke-linejoin="round"/>
<polygon points="527.0,1778.0 541.8,1792.8 527.0,1807.6 512.2,1792.8" fill="#0000ff" stroke="#0000ff" stroke-width="3.5" stroke-linejoin="round"/>
<polygon points="579.6,1846.0 594.4,1860.8 579.6,1875.6 564.8,1860.8" fill="#0000ff" stroke="#0000ff" stroke-width="3.5" stroke-linejoin="round"/>
<polygon points="753.9,1575.1 768.7,1589.9 753.9,1604.7 739.1,1589.9" fill="#0000ff" stroke="#0000ff" stroke-width="3.5" stroke-linejoin="round"/>
<polygon points="749.1,1594.2 763.9,1609.0 749.1,1623.8 734.3,1609.0" fill="#0000ff" stroke="#0000ff" stroke-width="3.5" stroke-linejoin="round"/>
<polygon points="921.3,1545.4 936.1,1560.2 921.3,1575.0 906.5,1560.2" fill="#0000ff" stroke="#0000ff" stroke-width="3.5" stroke-linejoin="round"/>
<polygon points="875.4,1587.5 890.2,1602.3 875.4,1617.1 860.6,1602.3" fill="#0000ff" stroke="#0000ff" stroke-width="3.5" stroke-linejoin="round"/>
<polygon points="781.6,1629.6 796.4,1644.4 781.6,1659.2 766.8,1644.4" fill="#0000ff" stroke="#0000ff" stroke-width="3.5" stroke-linejoin="round"/>
<polygon points="712.7,1677.4 727.5,1692.2 712.7,1707.0 697.9,1692.2" fill="#0000ff" stroke="#0000ff" stroke-width="3.5" stroke-linejoin="round"/>
<polygon points="730.0,1683.2 744.8,1698.0 730.0,1712.8 715.2,1698.0" fill="#0000ff" stroke="#0000ff" stroke-width="3.5" stroke-linejoin="round"/>
<polygon points="770.1,1677.4 784.9,1692.2 770.1,1707.0 755.3,1692.2" fill="#0000ff" stroke="#0000ff" stroke-width="3.5" stroke-linejoin="round"/>
<polygon points="848.6,1639.2 863.4,1654.0 848.6,1668.8 833.8,1654.0" fill="#0000ff" stroke="#0000ff" stroke-width="3.5" stroke-linejoin="round"/>
<polygon points="869.7,1650.7 884.5,1665.5 869.7,1680.3 854.9,1665.5" fill="#0000ff" stroke="#0000ff" stroke-width="3.5" stroke-linejoin="round"/>
<polygon points="848.6,1688.9 863.4,1703.7 848.6,1718.5 833.8,1703.7" fill="#0000ff" stroke="#0000ff" stroke-width="3.5" stroke-linejoin="round"/>
<polygon points="906.0,1650.7 920.8,1665.5 906.0,1680.3 891.2,1665.5" fill="#0000ff" stroke="#0000ff" stroke-width="3.5" stroke-linejoin="round"/>
<polygon points="911.8,1692.8 926.6,1707.6 911.8,1722.4 897.0,1707.6" fill="#0000ff" stroke="#0000ff" stroke-width="3.5" stroke-linejoin="round"/>
<polygon points="944.3,1719.6 959.1,1734.4 944.3,1749.2 929.5,1734.4" fill="#0000ff" stroke="#0000ff" stroke-width="3.5" stroke-linejoin="round"/>
<polygon points="779.7,1746.3 794.5,1761.1 779.7,1775.9 764.9,1761.1" fill="#0000ff" stroke="#0000ff" stroke-width="3.5" stroke-linejoin="round"/>
<polygon points="808.4,1759.7 823.2,1774.5 808.4,1789.3 793.6,1774.5" fill="#0000ff" stroke="#0000ff" stroke-width="3.5" stroke-linejoin="round"/>
<polygon points="854.4,1742.5 869.2,1757.3 854.4,1772.1 839.6,1757.3" fill="#0000ff" stroke="#0000ff" stroke-width="3.5" stroke-linejoin="round"/>
<polygon points="860.1,1777.0 874.9,1791.8 860.1,1806.6 845.3,1791.8" fill="#0000ff" stroke="#0000ff" stroke-width="3.5" stroke-linejoin="round"/>
<polygon points="896.5,1752.1 911.3,1766.9 896.5,1781.7 881.7,1766.9" fill="#0000ff" stroke="#0000ff" stroke-width="3.5" stroke-linejoin="round"/>
<polygon points="975.2,1624.3 990.0,1639.1 975.2,1653.9 960.4,1639.1" fill="#0000ff" stroke="#0000ff" stroke-width="3.5" stroke-linejoin="round"/>
<polygon points="902.7,1678.7 917.5,1693.5 902.7,1708.3 887.9,1693.5" fill="#0000ff" stroke="#0000ff" stroke-width="3.5" stroke-linejoin="round"/>
<polygon points="831.4,1560.7 846.2,1575.5 831.4,1590.3 816.6,1575.5" fill="#0000ff" stroke="#0000ff" stroke-width="3.5" stroke-linejoin="round"/>
<polygon points="815.0,1625.2 829.8,1640.0 815.0,1654.8 800.2,1640.0" fill="#0000ff" stroke="#0000ff" stroke-width="3.5" stroke-linejoin="round"/>
<polygon points="839.0,1512.9 853.8,1527.7 839.0,1542.5 824.2,1527.7" fill="#ffa500" stroke="#ffa500" stroke-width="3.5" stroke-linejoin="round"/>
<polygon points="894.5,1570.3 909.3,1585.1 894.5,1599.9 879.7,1585.1" fill="#ffa500" stroke="#ffa500" stroke-width="3.5" stroke-linejoin="round"/>
<polygon points="808.4,1572.2 823.2,1587.0 808.4,1601.8 793.6,1587.0" fill="#ffa500" stroke="#ffa500" stroke-width="3.5" stroke-linejoin="round"/>
<polygon points="766.3,1614.3 781.1,1629.1 766.3,1643.9 751.5,1629.1" fill="#ffa500" stroke="#ffa500" stroke-width="3.5" stroke-linejoin="round"/>
<polygon points="823.7,1627.7 838.5,1642.5 823.7,1657.3 808.9,1642.5" fill="#ffa500" stroke="#ffa500" stroke-width="3.5" stroke-linejoin="round"/>
<polygon points="831.4,1654.5 846.2,1669.3 831.4,1684.1 816.6,1669.3" fill="#ffa500" stroke="#ffa500" stroke-width="3.5" stroke-linejoin="round"/>
<polygon points="785.5,1656.4 800.3,1671.2 785.5,1686.0 770.7,1671.2" fill="#ffa500" stroke="#ffa500" stroke-width="3.5" stroke-linejoin="round"/>
<polygon points="942.4,1644.9 957.2,1659.7 942.4,1674.5 927.6,1659.7" fill="#ffa500" stroke="#ffa500" stroke-width="3.5" stroke-linejoin="round"/>
<polygon points="875.4,1694.7 890.2,1709.5 875.4,1724.3 860.6,1709.5" fill="#ffa500" stroke="#ffa500" stroke-width="3.5" stroke-linejoin="round"/>
<polygon points="727.1,1719.6 741.9,1734.4 727.1,1749.2 712.3,1734.4" fill="#ffa500" stroke="#ffa500" stroke-width="3.5" stroke-linejoin="round"/>
<polygon points="785.5,1711.9 800.3,1726.7 785.5,1741.5 770.7,1726.7" fill="#ffa500" stroke="#ffa500" stroke-width="3.5" stroke-linejoin="round"/>
<polygon points="808.4,1706.2 823.2,1721.0 808.4,1735.8 793.6,1721.0" fill="#ffa500" stroke="#ffa500" stroke-width="3.5" stroke-linejoin="round"/>
<polygon points="774.0,1733.0 788.8,1747.8 774.0,1762.6 759.2,1747.8" fill="#ffa500" stroke="#ffa500" stroke-width="3.5" stroke-linejoin="round"/>
<polygon points="819.9,1754.0 834.7,1768.8 819.9,1783.6 805.1,1768.8" fill="#ffa500" stroke="#ffa500" stroke-width="3.5" stroke-linejoin="round"/>
<polygon points="850.5,1755.9 865.3,1770.7 850.5,1785.5 835.7,1770.7" fill="#ffa500" stroke="#ffa500" stroke-width="3.5" stroke-linejoin="round"/>
<polygon points="906.0,1773.2 920.8,1788.0 906.0,1802.8 891.2,1788.0" fill="#ffa500" stroke="#ffa500" stroke-width="3.5" stroke-linejoin="round"/>
<polygon points="770.1,1788.5 784.9,1803.3 770.1,1818.1 755.3,1803.3" fill="#ffa500" stroke="#ffa500" stroke-width="3.5" stroke-linejoin="round"/>
<polygon points="812.2,1803.8 827.0,1818.6 812.2,1833.4 797.4,1818.6" fill="#ffa500" stroke="#ffa500" stroke-width="3.5" stroke-linejoin="round"/>
<polygon points="985.8,1592.5 1000.6,1607.3 985.8,1622.1 971.0,1607.3" fill="#ffa500" stroke="#ffa500" stroke-width="3.5" stroke-linejoin="round"/>
<polygon points="1086.4,1597.8 1101.2,1612.6 1086.4,1627.4 1071.6,1612.6" fill="#ffa500" stroke="#ffa500" stroke-width="3.5" stroke-linejoin="round"/>
<polygon points="484.9,1940.7 499.7,1955.5 484.9,1970.3 470.1,1955.5" fill="#ffa500" stroke="#ffa500" stroke-width="3.5" stroke-linejoin="round"/>
<polygon points="836.3,1941.5 851.1,1956.3 836.3,1971.1 821.5,1956.3" fill="#ffa500" stroke="#ffa500" stroke-width="3.5" stroke-linejoin="round"/>
<polygon points="875.1,2135.4 889.9,2150.2 875.1,2165.0 860.3,2150.2" fill="#ffa500" stroke="#ffa500" stroke-width="3.5" stroke-linejoin="round"/>
<polygon points="839.0,1533.0 853.8,1547.8 839.0,1562.6 824.2,1547.8" fill="#00ff00" stroke="#00ff00" stroke-width="3.5" stroke-linejoin="round"/>
<polygon points="879.2,1545.4 894.0,1560.2 879.2,1575.0 864.4,1560.2" fill="#00ff00" stroke="#00ff00" stroke-width="3.5" stroke-linejoin="round"/>
<polygon points="909.9,1553.0 924.7,1567.8 909.9,1582.6 895.1,1567.8" fill="#00ff00" stroke="#00ff00" stroke-width="3.5" stroke-linejoin="round"/>
<polygon points="917.5,1566.4 932.3,1581.2 917.5,1596.0 902.7,1581.2" fill="#00ff00" stroke="#00ff00" stroke-width="3.5" stroke-linejoin="round"/>
<polygon points="839.0,1560.7 853.8,1575.5 839.0,1590.3 824.2,1575.5" fill="#00ff00" stroke="#00ff00" stroke-width="3.5" stroke-linejoin="round"/>
<polygon points="823.7,1585.6 838.5,1600.4 823.7,1615.2 808.9,1600.4" fill="#00ff00" stroke="#00ff00" stroke-width="3.5" stroke-linejoin="round"/>
<polygon points="796.9,1612.4 811.7,1627.2 796.9,1642.0 782.1,1627.2" fill="#00ff00" stroke="#00ff00" stroke-width="3.5" stroke-linejoin="round"/>
<polygon points="862.0,1599.0 876.8,1613.8 862.0,1628.6 847.2,1613.8" fill="#00ff00" stroke="#00ff00" stroke-width="3.5" stroke-linejoin="round"/>
<polygon points="865.8,1616.2 880.6,1631.0 865.8,1645.8 851.0,1631.0" fill="#00ff00" stroke="#00ff00" stroke-width="3.5" stroke-linejoin="round"/>
<polygon points="896.5,1604.7 911.3,1619.5 896.5,1634.3 881.7,1619.5" fill="#00ff00" stroke="#00ff00" stroke-width="3.5" stroke-linejoin="round"/>
<polygon points="938.6,1604.7 953.4,1619.5 938.6,1634.3 923.8,1619.5" fill="#00ff00" stroke="#00ff00" stroke-width="3.5" stroke-linejoin="round"/>
<polygon points="731.9,1644.9 746.7,1659.7 731.9,1674.5 717.1,1659.7" fill="#00ff00" stroke="#00ff00" stroke-width="3.5" stroke-linejoin="round"/>
<polygon points="823.7,1733.0 838.5,1747.8 823.7,1762.6 808.9,1747.8" fill="#00ff00" stroke="#00ff00" stroke-width="3.5" stroke-linejoin="round"/>
<polygon points="831.4,1725.3 846.2,1740.1 831.4,1754.9 816.6,1740.1" fill="#00ff00" stroke="#00ff00" stroke-width="3.5" stroke-linejoin="round"/>
<polygon points="896.5,1731.0 911.3,1745.8 896.5,1760.6 881.7,1745.8" fill="#00ff00" stroke="#00ff00" stroke-width="3.5" stroke-linejoin="round"/>
<polygon points="791.2,1782.7 806.0,1797.5 791.2,1812.3 776.4,1797.5" fill="#00ff00" stroke="#00ff00" stroke-width="3.5" stroke-linejoin="round"/>
<g fill="none" stroke="#000" stroke-width="5.5" stroke-linecap="round" stroke-linejoin="round">
<rect x="192.5" y="187.5" width="965.0" height="964.0"/>
<rect x="1242.5" y="187.5" width="964.5" height="964.0"/>
<rect x="192.5" y="1236.5" width="965.0" height="965.5"/>
<rect x="1242.5" y="1236.5" width="964.5" height="965.5"/>
<line x1="287" y1="1151.5" x2="287" y2="1195.5"/><line x1="483" y1="1151.5" x2="483" y2="1195.5"/><line x1="682.5" y1="1151.5" x2="682.5" y2="1195.5"/><line x1="882" y1="1151.5" x2="882" y2="1195.5"/><line x1="1083" y1="1151.5" x2="1083" y2="1195.5"/>
<line x1="1347" y1="1151.5" x2="1347" y2="1195.5"/><line x1="1505" y1="1151.5" x2="1505" y2="1195.5"/><line x1="1664" y1="1151.5" x2="1664" y2="1195.5"/><line x1="1827" y1="1151.5" x2="1827" y2="1195.5"/><line x1="1986" y1="1151.5" x2="1986" y2="1195.5"/><line x1="2144" y1="1151.5" x2="2144" y2="1195.5"/>
<line x1="287" y1="2202.0" x2="287" y2="2246.0"/><line x1="483" y1="2202.0" x2="483" y2="2246.0"/><line x1="682.5" y1="2202.0" x2="682.5" y2="2246.0"/><line x1="882" y1="2202.0" x2="882" y2="2246.0"/><line x1="1083" y1="2202.0" x2="1083" y2="2246.0"/>
<line x1="1347" y1="2202.0" x2="1347" y2="2246.0"/><line x1="1505" y1="2202.0" x2="1505" y2="2246.0"/><line x1="1664" y1="2202.0" x2="1664" y2="2246.0"/><line x1="1827" y1="2202.0" x2="1827" y2="2246.0"/><line x1="1986" y1="2202.0" x2="1986" y2="2246.0"/><line x1="2144" y1="2202.0" x2="2144" y2="2246.0"/>
<line x1="1157.5" y1="266" x2="1201.5" y2="266"/><line x1="1157.5" y1="461" x2="1201.5" y2="461"/><line x1="1157.5" y1="661" x2="1201.5" y2="661"/><line x1="1157.5" y1="862" x2="1201.5" y2="862"/><line x1="1157.5" y1="1062" x2="1201.5" y2="1062"/>
<line x1="2207.0" y1="266" x2="2251.0" y2="266"/><line x1="2207.0" y1="461" x2="2251.0" y2="461"/><line x1="2207.0" y1="661" x2="2251.0" y2="661"/><line x1="2207.0" y1="862" x2="2251.0" y2="862"/><line x1="2207.0" y1="1062" x2="2251.0" y2="1062"/>
<line x1="1157.5" y1="1299" x2="1201.5" y2="1299"/><line x1="1157.5" y1="1457.5" x2="1201.5" y2="1457.5"/><line x1="1157.5" y1="1616" x2="1201.5" y2="1616"/><line x1="1157.5" y1="1779" x2="1201.5" y2="1779"/><line x1="1157.5" y1="1937.5" x2="1201.5" y2="1937.5"/><line x1="1157.5" y1="2095.5" x2="1201.5" y2="2095.5"/>
<line x1="2207.0" y1="1299" x2="2251.0" y2="1299"/><line x1="2207.0" y1="1457.5" x2="2251.0" y2="1457.5"/><line x1="2207.0" y1="1616" x2="2251.0" y2="1616"/><line x1="2207.0" y1="1779" x2="2251.0" y2="1779"/><line x1="2207.0" y1="1937.5" x2="2251.0" y2="1937.5"/><line x1="2207.0" y1="2095.5" x2="2251.0" y2="2095.5"/>
</g>
<text transform="matrix(0.6700,0,0,0.7500,266.24,2351.50)" font-size="100">6</text>
<text transform="matrix(0.6700,0,0,0.7500,462.57,2351.50)" font-size="100">8</text>
<text transform="matrix(0.6700,0,0,0.7500,641.98,2351.50)" font-size="100">10</text>
<text transform="matrix(0.6700,0,0,0.7500,841.81,2351.50)" font-size="100">12</text>
<text transform="matrix(0.6700,0,0,0.7500,1042.14,2351.50)" font-size="100">14</text>
<text transform="matrix(0.6700,0,0,0.7500,1295.76,2351.50)" font-size="100">-22</text>
<text transform="matrix(0.6700,0,0,0.7500,1453.42,2351.50)" font-size="100">-20</text>
<text transform="matrix(0.6700,0,0,0.7500,1612.76,2351.50)" font-size="100">-18</text>
<text transform="matrix(0.6700,0,0,0.7500,1775.76,2351.50)" font-size="100">-16</text>
<text transform="matrix(0.6700,0,0,0.7500,1934.09,2351.50)" font-size="100">-14</text>
<text transform="matrix(0.6700,0,0,0.7500,2092.76,2351.50)" font-size="100">-12</text>
<text transform="matrix(0,-0.6600,0.8000,0,2357.50,302.78)" font-size="100">14</text>
<text transform="matrix(0,-0.6600,0.8000,0,2357.50,497.12)" font-size="100">12</text>
<text transform="matrix(0,-0.6600,0.8000,0,2357.50,697.45)" font-size="100">10</text>
<text transform="matrix(0,-0.6600,0.8000,0,2357.50,878.65)" font-size="100">8</text>
<text transform="matrix(0,-0.6600,0.8000,0,2357.50,1078.98)" font-size="100">6</text>
<text transform="matrix(0,-0.6600,0.8000,0,2357.50,1346.52)" font-size="100">-12</text>
<text transform="matrix(0,-0.6600,0.8000,0,2357.50,1505.68)" font-size="100">-14</text>
<text transform="matrix(0,-0.6600,0.8000,0,2357.50,1663.52)" font-size="100">-16</text>
<text transform="matrix(0,-0.6600,0.8000,0,2357.50,1826.52)" font-size="100">-18</text>
<text transform="matrix(0,-0.6600,0.8000,0,2357.50,1985.35)" font-size="100">-20</text>
<text transform="matrix(0,-0.6600,0.8000,0,2357.50,2143.02)" font-size="100">-22</text>
<text transform="matrix(0.8511,0,0,0.8000,589.80,89.60)" font-size="100">δ</text>
<text transform="matrix(0.5727,0,0,0.6000,636.92,41.40)" font-size="100">15</text>
<text transform="matrix(0.8429,0,0,0.9043,699.96,88.80)" font-size="100">N</text>
<text transform="matrix(0.9021,0,0,0.8110,1632.39,89.60)" font-size="100">δ</text>
<text transform="matrix(0.5707,0,0,0.5915,1681.33,41.41)" font-size="100">13</text>
<text transform="matrix(0.8778,0,0,0.9014,1746.61,88.70)" font-size="100">C</text>
<text transform="matrix(0,-0.9661,0.9507,0,95.30,646.23)" font-size="100">N</text>
<text transform="matrix(0,-0.6091,0.6300,0,47.27,711.77)" font-size="100">15</text>
<text transform="matrix(0,-0.7234,0.8137,0,94.80,752.89)" font-size="100">δ</text>
<text transform="matrix(0,-0.8619,0.8972,0,94.40,1691.91)" font-size="100">C</text>
<text transform="matrix(0,-0.6040,0.6169,0,47.58,1761.13)" font-size="100">13</text>
<text transform="matrix(0,-0.7085,0.8192,0,95.30,1802.43)" font-size="100">δ</text>
<text transform="matrix(0.7536,0,0,0.7274,898.42,2483)" font-size="100">Isotope Ratio (‰)</text>
<rect x="1320.8000000000002" y="1314.8000000000002" width="64.0" height="54.2" rx="2" fill="#000000" stroke="#000" stroke-width="4.8"/>
<text transform="matrix(0.7545,0,0,0.9014,1460.93,1381.10)" font-size="100">G1</text>
<rect x="1320.8000000000002" y="1425.9" width="64.0" height="54.2" rx="2" fill="#ff0000" stroke="#000" stroke-width="4.8"/>
<text transform="matrix(0.8455,0,0,0.9014,1460.47,1486.60)" font-size="100">G2</text>
<rect x="1320.8000000000002" y="1531.4" width="64.0" height="54.2" rx="2" fill="#0000ff" stroke="#000" stroke-width="4.8"/>
<text transform="matrix(0.8387,0,0,0.9014,1460.51,1592.10)" font-size="100">G3</text>
<rect x="1320.8000000000002" y="1636.8000000000002" width="64.0" height="54.2" rx="2" fill="#ffa500" stroke="#000" stroke-width="4.8"/>
<text transform="matrix(0.8320,0,0,0.9127,1460.54,1703.09)" font-size="100">G4</text>
<rect x="1320.8000000000002" y="1743.1000000000001" width="64.0" height="54.2" rx="2" fill="#00ff00" stroke="#000" stroke-width="4.8"/>
<text transform="matrix(0.8387,0,0,0.9014,1460.51,1807.80)" font-size="100">G5</text>
</svg>
</body></html>
